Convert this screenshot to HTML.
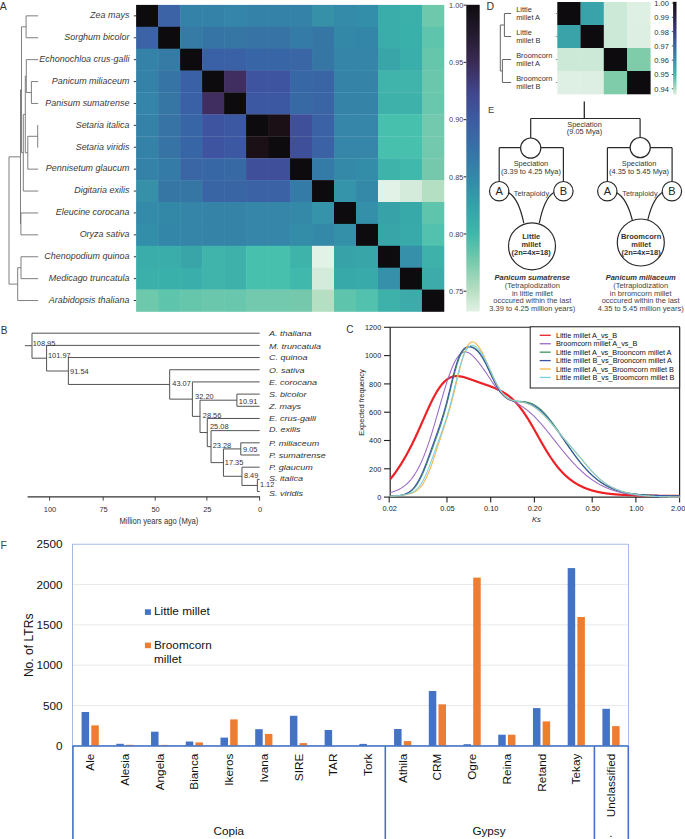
<!DOCTYPE html>
<html><head><meta charset="utf-8"><title>Figure</title>
<style>
html,body{margin:0;padding:0;background:#fff;}
body{width:685px;height:839px;overflow:hidden;}
svg{display:block;}
text{font-family:"Liberation Sans", sans-serif;}
</style></head><body>
<svg width="685" height="839" viewBox="0 0 685 839" font-family='"Liberation Sans", sans-serif'>
<rect x="0" y="0" width="685" height="839" fill="#fff"/>
<text x="-0.30" y="9.70" font-size="10.5" text-anchor="start" fill="#333">A</text>
<rect x="136.10" y="4.90" width="22.29" height="22.20" fill="#0d0b0d"/>
<rect x="158.09" y="4.90" width="22.29" height="22.20" fill="#3b63a6"/>
<rect x="180.08" y="4.90" width="22.29" height="22.20" fill="#3582a8"/>
<rect x="202.07" y="4.90" width="22.29" height="22.20" fill="#3582a8"/>
<rect x="224.06" y="4.90" width="22.29" height="22.20" fill="#3485a9"/>
<rect x="246.05" y="4.90" width="22.29" height="22.20" fill="#3582a8"/>
<rect x="268.04" y="4.90" width="22.29" height="22.20" fill="#3582a8"/>
<rect x="290.03" y="4.90" width="22.29" height="22.20" fill="#3582a8"/>
<rect x="312.02" y="4.90" width="22.29" height="22.20" fill="#3590a8"/>
<rect x="334.01" y="4.90" width="22.29" height="22.20" fill="#338aa9"/>
<rect x="356.00" y="4.90" width="22.29" height="22.20" fill="#338fa9"/>
<rect x="377.99" y="4.90" width="22.29" height="22.20" fill="#3aaca9"/>
<rect x="399.98" y="4.90" width="22.29" height="22.20" fill="#3bb0aa"/>
<rect x="421.97" y="4.90" width="22.29" height="22.20" fill="#6ec8ac"/>
<rect x="136.10" y="26.80" width="22.29" height="22.20" fill="#3b63a6"/>
<rect x="158.09" y="26.80" width="22.29" height="22.20" fill="#0d0b0d"/>
<rect x="180.08" y="26.80" width="22.29" height="22.20" fill="#357ba6"/>
<rect x="202.07" y="26.80" width="22.29" height="22.20" fill="#3674a5"/>
<rect x="224.06" y="26.80" width="22.29" height="22.20" fill="#3676a5"/>
<rect x="246.05" y="26.80" width="22.29" height="22.20" fill="#3773a4"/>
<rect x="268.04" y="26.80" width="22.29" height="22.20" fill="#3773a4"/>
<rect x="290.03" y="26.80" width="22.29" height="22.20" fill="#357ba7"/>
<rect x="312.02" y="26.80" width="22.29" height="22.20" fill="#3676a5"/>
<rect x="334.01" y="26.80" width="22.29" height="22.20" fill="#3388a8"/>
<rect x="356.00" y="26.80" width="22.29" height="22.20" fill="#3386a8"/>
<rect x="377.99" y="26.80" width="22.29" height="22.20" fill="#3aaca9"/>
<rect x="399.98" y="26.80" width="22.29" height="22.20" fill="#3ab0aa"/>
<rect x="421.97" y="26.80" width="22.29" height="22.20" fill="#5ec5ac"/>
<rect x="136.10" y="48.70" width="22.29" height="22.20" fill="#3582a8"/>
<rect x="158.09" y="48.70" width="22.29" height="22.20" fill="#357ba6"/>
<rect x="180.08" y="48.70" width="22.29" height="22.20" fill="#0d0b0d"/>
<rect x="202.07" y="48.70" width="22.29" height="22.20" fill="#3a60a6"/>
<rect x="224.06" y="48.70" width="22.29" height="22.20" fill="#3a60a6"/>
<rect x="246.05" y="48.70" width="22.29" height="22.20" fill="#3865a6"/>
<rect x="268.04" y="48.70" width="22.29" height="22.20" fill="#3865a6"/>
<rect x="290.03" y="48.70" width="22.29" height="22.20" fill="#3a66a6"/>
<rect x="312.02" y="48.70" width="22.29" height="22.20" fill="#3676a5"/>
<rect x="334.01" y="48.70" width="22.29" height="22.20" fill="#3585a8"/>
<rect x="356.00" y="48.70" width="22.29" height="22.20" fill="#3585a8"/>
<rect x="377.99" y="48.70" width="22.29" height="22.20" fill="#39a5a9"/>
<rect x="399.98" y="48.70" width="22.29" height="22.20" fill="#3aaeaa"/>
<rect x="421.97" y="48.70" width="22.29" height="22.20" fill="#66c6ac"/>
<rect x="136.10" y="70.60" width="22.29" height="22.20" fill="#3582a8"/>
<rect x="158.09" y="70.60" width="22.29" height="22.20" fill="#3674a5"/>
<rect x="180.08" y="70.60" width="22.29" height="22.20" fill="#3a60a6"/>
<rect x="202.07" y="70.60" width="22.29" height="22.20" fill="#0d0b0d"/>
<rect x="224.06" y="70.60" width="22.29" height="22.20" fill="#3f2e5f"/>
<rect x="246.05" y="70.60" width="22.29" height="22.20" fill="#3e54a0"/>
<rect x="268.04" y="70.60" width="22.29" height="22.20" fill="#3e54a0"/>
<rect x="290.03" y="70.60" width="22.29" height="22.20" fill="#3867a5"/>
<rect x="312.02" y="70.60" width="22.29" height="22.20" fill="#3a65a5"/>
<rect x="334.01" y="70.60" width="22.29" height="22.20" fill="#3584a8"/>
<rect x="356.00" y="70.60" width="22.29" height="22.20" fill="#3584a8"/>
<rect x="377.99" y="70.60" width="22.29" height="22.20" fill="#40b4aa"/>
<rect x="399.98" y="70.60" width="22.29" height="22.20" fill="#40b4aa"/>
<rect x="421.97" y="70.60" width="22.29" height="22.20" fill="#6ac7ac"/>
<rect x="136.10" y="92.50" width="22.29" height="22.20" fill="#3485a9"/>
<rect x="158.09" y="92.50" width="22.29" height="22.20" fill="#3676a5"/>
<rect x="180.08" y="92.50" width="22.29" height="22.20" fill="#3a60a6"/>
<rect x="202.07" y="92.50" width="22.29" height="22.20" fill="#3f2e5f"/>
<rect x="224.06" y="92.50" width="22.29" height="22.20" fill="#0d0b0d"/>
<rect x="246.05" y="92.50" width="22.29" height="22.20" fill="#3c58a2"/>
<rect x="268.04" y="92.50" width="22.29" height="22.20" fill="#3c58a2"/>
<rect x="290.03" y="92.50" width="22.29" height="22.20" fill="#376aa5"/>
<rect x="312.02" y="92.50" width="22.29" height="22.20" fill="#3a65a5"/>
<rect x="334.01" y="92.50" width="22.29" height="22.20" fill="#3584a8"/>
<rect x="356.00" y="92.50" width="22.29" height="22.20" fill="#3584a8"/>
<rect x="377.99" y="92.50" width="22.29" height="22.20" fill="#3db1aa"/>
<rect x="399.98" y="92.50" width="22.29" height="22.20" fill="#3db1aa"/>
<rect x="421.97" y="92.50" width="22.29" height="22.20" fill="#68c7ac"/>
<rect x="136.10" y="114.40" width="22.29" height="22.20" fill="#3582a8"/>
<rect x="158.09" y="114.40" width="22.29" height="22.20" fill="#3773a4"/>
<rect x="180.08" y="114.40" width="22.29" height="22.20" fill="#3865a6"/>
<rect x="202.07" y="114.40" width="22.29" height="22.20" fill="#3e54a0"/>
<rect x="224.06" y="114.40" width="22.29" height="22.20" fill="#3c58a2"/>
<rect x="246.05" y="114.40" width="22.29" height="22.20" fill="#0d0b0d"/>
<rect x="268.04" y="114.40" width="22.29" height="22.20" fill="#1a1015"/>
<rect x="290.03" y="114.40" width="22.29" height="22.20" fill="#3f4f99"/>
<rect x="312.02" y="114.40" width="22.29" height="22.20" fill="#3a62a5"/>
<rect x="334.01" y="114.40" width="22.29" height="22.20" fill="#3586a8"/>
<rect x="356.00" y="114.40" width="22.29" height="22.20" fill="#3586a8"/>
<rect x="377.99" y="114.40" width="22.29" height="22.20" fill="#47c1ae"/>
<rect x="399.98" y="114.40" width="22.29" height="22.20" fill="#47c1ae"/>
<rect x="421.97" y="114.40" width="22.29" height="22.20" fill="#72c9ad"/>
<rect x="136.10" y="136.30" width="22.29" height="22.20" fill="#3582a8"/>
<rect x="158.09" y="136.30" width="22.29" height="22.20" fill="#3773a4"/>
<rect x="180.08" y="136.30" width="22.29" height="22.20" fill="#3865a6"/>
<rect x="202.07" y="136.30" width="22.29" height="22.20" fill="#3e54a0"/>
<rect x="224.06" y="136.30" width="22.29" height="22.20" fill="#3c58a2"/>
<rect x="246.05" y="136.30" width="22.29" height="22.20" fill="#1a1015"/>
<rect x="268.04" y="136.30" width="22.29" height="22.20" fill="#0d0b0d"/>
<rect x="290.03" y="136.30" width="22.29" height="22.20" fill="#3f4f99"/>
<rect x="312.02" y="136.30" width="22.29" height="22.20" fill="#3a62a5"/>
<rect x="334.01" y="136.30" width="22.29" height="22.20" fill="#3586a8"/>
<rect x="356.00" y="136.30" width="22.29" height="22.20" fill="#3586a8"/>
<rect x="377.99" y="136.30" width="22.29" height="22.20" fill="#47c1ae"/>
<rect x="399.98" y="136.30" width="22.29" height="22.20" fill="#47c1ae"/>
<rect x="421.97" y="136.30" width="22.29" height="22.20" fill="#72c9ad"/>
<rect x="136.10" y="158.20" width="22.29" height="22.20" fill="#3582a8"/>
<rect x="158.09" y="158.20" width="22.29" height="22.20" fill="#357ba7"/>
<rect x="180.08" y="158.20" width="22.29" height="22.20" fill="#3a66a6"/>
<rect x="202.07" y="158.20" width="22.29" height="22.20" fill="#3867a5"/>
<rect x="224.06" y="158.20" width="22.29" height="22.20" fill="#376aa5"/>
<rect x="246.05" y="158.20" width="22.29" height="22.20" fill="#3f4f99"/>
<rect x="268.04" y="158.20" width="22.29" height="22.20" fill="#3f4f99"/>
<rect x="290.03" y="158.20" width="22.29" height="22.20" fill="#0d0b0d"/>
<rect x="312.02" y="158.20" width="22.29" height="22.20" fill="#357ba7"/>
<rect x="334.01" y="158.20" width="22.29" height="22.20" fill="#3589a8"/>
<rect x="356.00" y="158.20" width="22.29" height="22.20" fill="#338da9"/>
<rect x="377.99" y="158.20" width="22.29" height="22.20" fill="#3eb3aa"/>
<rect x="399.98" y="158.20" width="22.29" height="22.20" fill="#40b8ab"/>
<rect x="421.97" y="158.20" width="22.29" height="22.20" fill="#75c8ac"/>
<rect x="136.10" y="180.10" width="22.29" height="22.20" fill="#3590a8"/>
<rect x="158.09" y="180.10" width="22.29" height="22.20" fill="#3676a5"/>
<rect x="180.08" y="180.10" width="22.29" height="22.20" fill="#3676a5"/>
<rect x="202.07" y="180.10" width="22.29" height="22.20" fill="#3a65a5"/>
<rect x="224.06" y="180.10" width="22.29" height="22.20" fill="#3a65a5"/>
<rect x="246.05" y="180.10" width="22.29" height="22.20" fill="#3a62a5"/>
<rect x="268.04" y="180.10" width="22.29" height="22.20" fill="#3a62a5"/>
<rect x="290.03" y="180.10" width="22.29" height="22.20" fill="#357ba7"/>
<rect x="312.02" y="180.10" width="22.29" height="22.20" fill="#0d0b0d"/>
<rect x="334.01" y="180.10" width="22.29" height="22.20" fill="#3594a9"/>
<rect x="356.00" y="180.10" width="22.29" height="22.20" fill="#3589a8"/>
<rect x="377.99" y="180.10" width="22.29" height="22.20" fill="#e2f2e6"/>
<rect x="399.98" y="180.10" width="22.29" height="22.20" fill="#d4ebdc"/>
<rect x="421.97" y="180.10" width="22.29" height="22.20" fill="#b4dfc2"/>
<rect x="136.10" y="202.00" width="22.29" height="22.20" fill="#338aa9"/>
<rect x="158.09" y="202.00" width="22.29" height="22.20" fill="#3388a8"/>
<rect x="180.08" y="202.00" width="22.29" height="22.20" fill="#3585a8"/>
<rect x="202.07" y="202.00" width="22.29" height="22.20" fill="#3584a8"/>
<rect x="224.06" y="202.00" width="22.29" height="22.20" fill="#3584a8"/>
<rect x="246.05" y="202.00" width="22.29" height="22.20" fill="#3586a8"/>
<rect x="268.04" y="202.00" width="22.29" height="22.20" fill="#3586a8"/>
<rect x="290.03" y="202.00" width="22.29" height="22.20" fill="#3589a8"/>
<rect x="312.02" y="202.00" width="22.29" height="22.20" fill="#3594a9"/>
<rect x="334.01" y="202.00" width="22.29" height="22.20" fill="#0d0b0d"/>
<rect x="356.00" y="202.00" width="22.29" height="22.20" fill="#3490a9"/>
<rect x="377.99" y="202.00" width="22.29" height="22.20" fill="#37a3a9"/>
<rect x="399.98" y="202.00" width="22.29" height="22.20" fill="#38a9a9"/>
<rect x="421.97" y="202.00" width="22.29" height="22.20" fill="#5ec5ac"/>
<rect x="136.10" y="223.90" width="22.29" height="22.20" fill="#338fa9"/>
<rect x="158.09" y="223.90" width="22.29" height="22.20" fill="#3386a8"/>
<rect x="180.08" y="223.90" width="22.29" height="22.20" fill="#3585a8"/>
<rect x="202.07" y="223.90" width="22.29" height="22.20" fill="#3584a8"/>
<rect x="224.06" y="223.90" width="22.29" height="22.20" fill="#3584a8"/>
<rect x="246.05" y="223.90" width="22.29" height="22.20" fill="#3586a8"/>
<rect x="268.04" y="223.90" width="22.29" height="22.20" fill="#3586a8"/>
<rect x="290.03" y="223.90" width="22.29" height="22.20" fill="#338da9"/>
<rect x="312.02" y="223.90" width="22.29" height="22.20" fill="#3589a8"/>
<rect x="334.01" y="223.90" width="22.29" height="22.20" fill="#3490a9"/>
<rect x="356.00" y="223.90" width="22.29" height="22.20" fill="#0d0b0d"/>
<rect x="377.99" y="223.90" width="22.29" height="22.20" fill="#38a6a9"/>
<rect x="399.98" y="223.90" width="22.29" height="22.20" fill="#38aaa9"/>
<rect x="421.97" y="223.90" width="22.29" height="22.20" fill="#52c1ad"/>
<rect x="136.10" y="245.80" width="22.29" height="22.20" fill="#3aaca9"/>
<rect x="158.09" y="245.80" width="22.29" height="22.20" fill="#3aaca9"/>
<rect x="180.08" y="245.80" width="22.29" height="22.20" fill="#39a5a9"/>
<rect x="202.07" y="245.80" width="22.29" height="22.20" fill="#40b4aa"/>
<rect x="224.06" y="245.80" width="22.29" height="22.20" fill="#3db1aa"/>
<rect x="246.05" y="245.80" width="22.29" height="22.20" fill="#47c1ae"/>
<rect x="268.04" y="245.80" width="22.29" height="22.20" fill="#47c1ae"/>
<rect x="290.03" y="245.80" width="22.29" height="22.20" fill="#3eb3aa"/>
<rect x="312.02" y="245.80" width="22.29" height="22.20" fill="#e2f2e6"/>
<rect x="334.01" y="245.80" width="22.29" height="22.20" fill="#37a3a9"/>
<rect x="356.00" y="245.80" width="22.29" height="22.20" fill="#38a6a9"/>
<rect x="377.99" y="245.80" width="22.29" height="22.20" fill="#0d0b0d"/>
<rect x="399.98" y="245.80" width="22.29" height="22.20" fill="#3690a9"/>
<rect x="421.97" y="245.80" width="22.29" height="22.20" fill="#3eb2aa"/>
<rect x="136.10" y="267.70" width="22.29" height="22.20" fill="#3bb0aa"/>
<rect x="158.09" y="267.70" width="22.29" height="22.20" fill="#3ab0aa"/>
<rect x="180.08" y="267.70" width="22.29" height="22.20" fill="#3aaeaa"/>
<rect x="202.07" y="267.70" width="22.29" height="22.20" fill="#40b4aa"/>
<rect x="224.06" y="267.70" width="22.29" height="22.20" fill="#3db1aa"/>
<rect x="246.05" y="267.70" width="22.29" height="22.20" fill="#47c1ae"/>
<rect x="268.04" y="267.70" width="22.29" height="22.20" fill="#47c1ae"/>
<rect x="290.03" y="267.70" width="22.29" height="22.20" fill="#40b8ab"/>
<rect x="312.02" y="267.70" width="22.29" height="22.20" fill="#d4ebdc"/>
<rect x="334.01" y="267.70" width="22.29" height="22.20" fill="#38a9a9"/>
<rect x="356.00" y="267.70" width="22.29" height="22.20" fill="#38aaa9"/>
<rect x="377.99" y="267.70" width="22.29" height="22.20" fill="#3690a9"/>
<rect x="399.98" y="267.70" width="22.29" height="22.20" fill="#0d0b0d"/>
<rect x="421.97" y="267.70" width="22.29" height="22.20" fill="#3cabaa"/>
<rect x="136.10" y="289.60" width="22.29" height="22.20" fill="#6ec8ac"/>
<rect x="158.09" y="289.60" width="22.29" height="22.20" fill="#5ec5ac"/>
<rect x="180.08" y="289.60" width="22.29" height="22.20" fill="#66c6ac"/>
<rect x="202.07" y="289.60" width="22.29" height="22.20" fill="#6ac7ac"/>
<rect x="224.06" y="289.60" width="22.29" height="22.20" fill="#68c7ac"/>
<rect x="246.05" y="289.60" width="22.29" height="22.20" fill="#72c9ad"/>
<rect x="268.04" y="289.60" width="22.29" height="22.20" fill="#72c9ad"/>
<rect x="290.03" y="289.60" width="22.29" height="22.20" fill="#75c8ac"/>
<rect x="312.02" y="289.60" width="22.29" height="22.20" fill="#b4dfc2"/>
<rect x="334.01" y="289.60" width="22.29" height="22.20" fill="#5ec5ac"/>
<rect x="356.00" y="289.60" width="22.29" height="22.20" fill="#52c1ad"/>
<rect x="377.99" y="289.60" width="22.29" height="22.20" fill="#3eb2aa"/>
<rect x="399.98" y="289.60" width="22.29" height="22.20" fill="#3cabaa"/>
<rect x="421.97" y="289.60" width="22.29" height="22.20" fill="#0d0b0d"/>
<text x="129.40" y="18.15" font-size="9.4" text-anchor="end" fill="#3a3a3a" font-style="italic" textLength="39.29" lengthAdjust="spacingAndGlyphs">Zea mays</text>
<line x1="133.80" y1="15.85" x2="136.10" y2="15.85" stroke="#333" stroke-width="1"/>
<text x="129.40" y="40.05" font-size="9.4" text-anchor="end" fill="#3a3a3a" font-style="italic" textLength="65.17" lengthAdjust="spacingAndGlyphs">Sorghum bicolor</text>
<line x1="133.80" y1="37.75" x2="136.10" y2="37.75" stroke="#333" stroke-width="1"/>
<text x="129.40" y="61.95" font-size="9.4" text-anchor="end" fill="#3a3a3a" font-style="italic" textLength="90.05" lengthAdjust="spacingAndGlyphs">Echonochloa crus-galli</text>
<line x1="133.80" y1="59.65" x2="136.10" y2="59.65" stroke="#333" stroke-width="1"/>
<text x="129.40" y="83.85" font-size="9.4" text-anchor="end" fill="#3a3a3a" font-style="italic" textLength="77.59" lengthAdjust="spacingAndGlyphs">Panicum miliaceum</text>
<line x1="133.80" y1="81.55" x2="136.10" y2="81.55" stroke="#333" stroke-width="1"/>
<text x="129.40" y="105.75" font-size="9.4" text-anchor="end" fill="#3a3a3a" font-style="italic" textLength="84.07" lengthAdjust="spacingAndGlyphs">Panisum sumatrense</text>
<line x1="133.80" y1="103.45" x2="136.10" y2="103.45" stroke="#333" stroke-width="1"/>
<text x="129.40" y="127.65" font-size="9.4" text-anchor="end" fill="#3a3a3a" font-style="italic" textLength="53.73" lengthAdjust="spacingAndGlyphs">Setaria italica</text>
<line x1="133.80" y1="125.35" x2="136.10" y2="125.35" stroke="#333" stroke-width="1"/>
<text x="129.40" y="149.55" font-size="9.4" text-anchor="end" fill="#3a3a3a" font-style="italic" textLength="53.72" lengthAdjust="spacingAndGlyphs">Setaria viridis</text>
<line x1="133.80" y1="147.25" x2="136.10" y2="147.25" stroke="#333" stroke-width="1"/>
<text x="129.40" y="171.45" font-size="9.4" text-anchor="end" fill="#3a3a3a" font-style="italic" textLength="83.58" lengthAdjust="spacingAndGlyphs">Pennisetum glaucum</text>
<line x1="133.80" y1="169.15" x2="136.10" y2="169.15" stroke="#333" stroke-width="1"/>
<text x="129.40" y="193.35" font-size="9.4" text-anchor="end" fill="#3a3a3a" font-style="italic" textLength="55.21" lengthAdjust="spacingAndGlyphs">Digitaria exilis</text>
<line x1="133.80" y1="191.05" x2="136.10" y2="191.05" stroke="#333" stroke-width="1"/>
<text x="129.40" y="215.25" font-size="9.4" text-anchor="end" fill="#3a3a3a" font-style="italic" textLength="73.64" lengthAdjust="spacingAndGlyphs">Eleucine corocana</text>
<line x1="133.80" y1="212.95" x2="136.10" y2="212.95" stroke="#333" stroke-width="1"/>
<text x="129.40" y="237.15" font-size="9.4" text-anchor="end" fill="#3a3a3a" font-style="italic" textLength="49.74" lengthAdjust="spacingAndGlyphs">Oryza sativa</text>
<line x1="133.80" y1="234.85" x2="136.10" y2="234.85" stroke="#333" stroke-width="1"/>
<text x="129.40" y="259.05" font-size="9.4" text-anchor="end" fill="#3a3a3a" font-style="italic" textLength="85.09" lengthAdjust="spacingAndGlyphs">Chenopodium quinoa</text>
<line x1="133.80" y1="256.75" x2="136.10" y2="256.75" stroke="#333" stroke-width="1"/>
<text x="129.40" y="280.95" font-size="9.4" text-anchor="end" fill="#3a3a3a" font-style="italic" textLength="80.60" lengthAdjust="spacingAndGlyphs">Medicago truncatula</text>
<line x1="133.80" y1="278.65" x2="136.10" y2="278.65" stroke="#333" stroke-width="1"/>
<text x="129.40" y="302.85" font-size="9.4" text-anchor="end" fill="#3a3a3a" font-style="italic" textLength="80.60" lengthAdjust="spacingAndGlyphs">Arabidopsis thaliana</text>
<line x1="133.80" y1="300.55" x2="136.10" y2="300.55" stroke="#333" stroke-width="1"/>
<line x1="26.10" y1="15.85" x2="38.20" y2="15.85" stroke="#707070" stroke-width="0.9"/>
<line x1="26.10" y1="37.75" x2="38.20" y2="37.75" stroke="#707070" stroke-width="0.9"/>
<line x1="26.10" y1="15.85" x2="26.10" y2="37.75" stroke="#707070" stroke-width="0.9"/>
<line x1="31.40" y1="81.55" x2="38.20" y2="81.55" stroke="#707070" stroke-width="0.9"/>
<line x1="31.40" y1="103.45" x2="38.20" y2="103.45" stroke="#707070" stroke-width="0.9"/>
<line x1="31.40" y1="81.55" x2="31.40" y2="103.45" stroke="#707070" stroke-width="0.9"/>
<line x1="26.30" y1="59.65" x2="38.20" y2="59.65" stroke="#707070" stroke-width="0.9"/>
<line x1="26.30" y1="92.50" x2="31.40" y2="92.50" stroke="#707070" stroke-width="0.9"/>
<line x1="26.30" y1="59.65" x2="26.30" y2="92.50" stroke="#707070" stroke-width="0.9"/>
<line x1="37.70" y1="125.35" x2="38.20" y2="125.35" stroke="#707070" stroke-width="0.9"/>
<line x1="37.70" y1="147.25" x2="38.20" y2="147.25" stroke="#707070" stroke-width="0.9"/>
<line x1="37.70" y1="125.35" x2="37.70" y2="147.25" stroke="#707070" stroke-width="0.9"/>
<line x1="27.80" y1="169.15" x2="38.20" y2="169.15" stroke="#707070" stroke-width="0.9"/>
<line x1="27.80" y1="136.30" x2="37.70" y2="136.30" stroke="#707070" stroke-width="0.9"/>
<line x1="27.80" y1="136.30" x2="27.80" y2="169.15" stroke="#707070" stroke-width="0.9"/>
<line x1="25.30" y1="76.08" x2="26.30" y2="76.08" stroke="#707070" stroke-width="0.9"/>
<line x1="25.30" y1="152.73" x2="27.80" y2="152.73" stroke="#707070" stroke-width="0.9"/>
<line x1="25.30" y1="76.08" x2="25.30" y2="152.73" stroke="#707070" stroke-width="0.9"/>
<line x1="23.30" y1="191.05" x2="38.20" y2="191.05" stroke="#707070" stroke-width="0.9"/>
<line x1="23.30" y1="114.40" x2="25.30" y2="114.40" stroke="#707070" stroke-width="0.9"/>
<line x1="23.30" y1="114.40" x2="23.30" y2="191.05" stroke="#707070" stroke-width="0.9"/>
<line x1="21.50" y1="26.80" x2="26.10" y2="26.80" stroke="#707070" stroke-width="0.9"/>
<line x1="21.50" y1="152.72" x2="23.30" y2="152.72" stroke="#707070" stroke-width="0.9"/>
<line x1="21.50" y1="26.80" x2="21.50" y2="152.72" stroke="#707070" stroke-width="0.9"/>
<line x1="20.90" y1="212.95" x2="38.20" y2="212.95" stroke="#707070" stroke-width="0.9"/>
<line x1="20.90" y1="234.85" x2="38.20" y2="234.85" stroke="#707070" stroke-width="0.9"/>
<line x1="20.90" y1="212.95" x2="20.90" y2="234.85" stroke="#707070" stroke-width="0.9"/>
<line x1="20.50" y1="89.76" x2="21.50" y2="89.76" stroke="#707070" stroke-width="0.9"/>
<line x1="20.50" y1="89.76" x2="20.50" y2="223.90" stroke="#707070" stroke-width="0.9"/>
<line x1="21.00" y1="256.75" x2="38.20" y2="256.75" stroke="#707070" stroke-width="0.9"/>
<line x1="21.00" y1="278.65" x2="38.20" y2="278.65" stroke="#707070" stroke-width="0.9"/>
<line x1="21.00" y1="256.75" x2="21.00" y2="278.65" stroke="#707070" stroke-width="0.9"/>
<line x1="17.70" y1="300.55" x2="38.20" y2="300.55" stroke="#707070" stroke-width="0.9"/>
<line x1="17.70" y1="267.70" x2="21.00" y2="267.70" stroke="#707070" stroke-width="0.9"/>
<line x1="17.70" y1="267.70" x2="17.70" y2="300.55" stroke="#707070" stroke-width="0.9"/>
<line x1="9.00" y1="156.83" x2="20.50" y2="156.83" stroke="#707070" stroke-width="0.9"/>
<line x1="9.00" y1="284.12" x2="17.70" y2="284.12" stroke="#707070" stroke-width="0.9"/>
<line x1="9.00" y1="156.83" x2="9.00" y2="284.12" stroke="#707070" stroke-width="0.9"/>
<defs><linearGradient id="cbA" x1="0" y1="0" x2="0" y2="1">
<stop offset="0" stop-color="#0f0b10"/>
<stop offset="0.095" stop-color="#241a2e"/>
<stop offset="0.187" stop-color="#3a2b55"/>
<stop offset="0.28" stop-color="#41448a"/>
<stop offset="0.373" stop-color="#3d5ba0"/>
<stop offset="0.466" stop-color="#3770a6"/>
<stop offset="0.56" stop-color="#3487a8"/>
<stop offset="0.653" stop-color="#35a0a9"/>
<stop offset="0.746" stop-color="#41b6aa"/>
<stop offset="0.84" stop-color="#79caad"/>
<stop offset="0.933" stop-color="#b9dfc3"/>
<stop offset="1" stop-color="#e0f1e4"/>
</linearGradient>
<linearGradient id="cbD" x1="0" y1="0" x2="0" y2="1">
<stop offset="0" stop-color="#140c16"/>
<stop offset="0.165" stop-color="#2b1f45"/>
<stop offset="0.315" stop-color="#3b3a80"/>
<stop offset="0.47" stop-color="#3a64a8"/>
<stop offset="0.625" stop-color="#3592a9"/>
<stop offset="0.78" stop-color="#3fb9aa"/>
<stop offset="0.93" stop-color="#a8dcbc"/>
<stop offset="1" stop-color="#e2f3e6"/>
</linearGradient></defs>
<rect x="466.30" y="4.80" width="13.40" height="306.70" fill="url(#cbA)"/>
<text x="463.30" y="7.95" font-size="7.9" text-anchor="end" fill="#444" textLength="14.21" lengthAdjust="spacingAndGlyphs">1.00</text>
<line x1="463.60" y1="5.20" x2="466.30" y2="5.20" stroke="#444" stroke-width="1.2"/>
<text x="463.30" y="65.15" font-size="7.9" text-anchor="end" fill="#444" textLength="14.21" lengthAdjust="spacingAndGlyphs">0.95</text>
<line x1="463.60" y1="62.40" x2="466.30" y2="62.40" stroke="#444" stroke-width="1.2"/>
<text x="463.30" y="122.35" font-size="7.9" text-anchor="end" fill="#444" textLength="14.21" lengthAdjust="spacingAndGlyphs">0.90</text>
<line x1="463.60" y1="119.60" x2="466.30" y2="119.60" stroke="#444" stroke-width="1.2"/>
<text x="463.30" y="179.55" font-size="7.9" text-anchor="end" fill="#444" textLength="14.21" lengthAdjust="spacingAndGlyphs">0.85</text>
<line x1="463.60" y1="176.80" x2="466.30" y2="176.80" stroke="#444" stroke-width="1.2"/>
<text x="463.30" y="236.75" font-size="7.9" text-anchor="end" fill="#444" textLength="14.21" lengthAdjust="spacingAndGlyphs">0.80</text>
<line x1="463.60" y1="234.00" x2="466.30" y2="234.00" stroke="#444" stroke-width="1.2"/>
<text x="463.30" y="293.95" font-size="7.9" text-anchor="end" fill="#444" textLength="14.21" lengthAdjust="spacingAndGlyphs">0.75</text>
<line x1="463.60" y1="291.20" x2="466.30" y2="291.20" stroke="#444" stroke-width="1.2"/>
<text x="486.60" y="9.90" font-size="10.5" text-anchor="start" fill="#333">D</text>
<rect x="557.30" y="2.00" width="23.55" height="23.30" fill="#0d0b0d"/>
<rect x="580.55" y="2.00" width="23.55" height="23.30" fill="#3aa3a9"/>
<rect x="603.80" y="2.00" width="23.55" height="23.30" fill="#cce8d6"/>
<rect x="627.05" y="2.00" width="23.55" height="23.30" fill="#def0e3"/>
<rect x="557.30" y="25.00" width="23.55" height="23.30" fill="#3aa3a9"/>
<rect x="580.55" y="25.00" width="23.55" height="23.30" fill="#0d0b0d"/>
<rect x="603.80" y="25.00" width="23.55" height="23.30" fill="#cce8d6"/>
<rect x="627.05" y="25.00" width="23.55" height="23.30" fill="#dcefe2"/>
<rect x="557.30" y="48.00" width="23.55" height="23.30" fill="#cce8d6"/>
<rect x="580.55" y="48.00" width="23.55" height="23.30" fill="#cce8d6"/>
<rect x="603.80" y="48.00" width="23.55" height="23.30" fill="#0d0b0d"/>
<rect x="627.05" y="48.00" width="23.55" height="23.30" fill="#7ecca9"/>
<rect x="557.30" y="71.00" width="23.55" height="23.30" fill="#def0e3"/>
<rect x="580.55" y="71.00" width="23.55" height="23.30" fill="#dcefe2"/>
<rect x="603.80" y="71.00" width="23.55" height="23.30" fill="#7ecca9"/>
<rect x="627.05" y="71.00" width="23.55" height="23.30" fill="#0d0b0d"/>
<line x1="504.40" y1="13.50" x2="511.20" y2="13.50" stroke="#555" stroke-width="0.9"/>
<line x1="504.40" y1="36.50" x2="511.20" y2="36.50" stroke="#555" stroke-width="0.9"/>
<line x1="504.40" y1="13.50" x2="504.40" y2="36.50" stroke="#555" stroke-width="0.9"/>
<line x1="502.40" y1="59.50" x2="511.20" y2="59.50" stroke="#555" stroke-width="0.9"/>
<line x1="502.40" y1="82.50" x2="511.20" y2="82.50" stroke="#555" stroke-width="0.9"/>
<line x1="502.40" y1="59.50" x2="502.40" y2="82.50" stroke="#555" stroke-width="0.9"/>
<line x1="500.30" y1="25.00" x2="504.40" y2="25.00" stroke="#555" stroke-width="0.9"/>
<line x1="500.30" y1="71.00" x2="502.40" y2="71.00" stroke="#555" stroke-width="0.9"/>
<line x1="500.30" y1="25.00" x2="500.30" y2="71.00" stroke="#555" stroke-width="0.9"/>
<text x="516.20" y="12.30" font-size="7.4" text-anchor="start" fill="#333">Little</text>
<text x="516.20" y="20.10" font-size="7.4" text-anchor="start" fill="#333">millet A</text>
<line x1="555.90" y1="13.50" x2="557.30" y2="13.50" stroke="#777" stroke-width="0.8"/>
<text x="516.20" y="35.30" font-size="7.4" text-anchor="start" fill="#333">Little</text>
<text x="516.20" y="43.10" font-size="7.4" text-anchor="start" fill="#333">millet B</text>
<line x1="555.90" y1="36.50" x2="557.30" y2="36.50" stroke="#777" stroke-width="0.8"/>
<text x="516.20" y="58.30" font-size="7.4" text-anchor="start" fill="#333">Broomcorn</text>
<text x="516.20" y="66.10" font-size="7.4" text-anchor="start" fill="#333">millet A</text>
<line x1="555.90" y1="59.50" x2="557.30" y2="59.50" stroke="#777" stroke-width="0.8"/>
<text x="516.20" y="81.30" font-size="7.4" text-anchor="start" fill="#333">Broomcorn</text>
<text x="516.20" y="89.10" font-size="7.4" text-anchor="start" fill="#333">millet B</text>
<line x1="555.90" y1="82.50" x2="557.30" y2="82.50" stroke="#777" stroke-width="0.8"/>
<rect x="673.10" y="1.80" width="3.40" height="93.00" fill="url(#cbD)"/>
<text x="669.00" y="5.90" font-size="8.0" text-anchor="end" fill="#333" textLength="14.69" lengthAdjust="spacingAndGlyphs">1.00</text>
<line x1="671.80" y1="3.00" x2="673.10" y2="3.00" stroke="#333" stroke-width="0.8"/>
<text x="669.00" y="20.20" font-size="8.0" text-anchor="end" fill="#333" textLength="14.69" lengthAdjust="spacingAndGlyphs">0.99</text>
<line x1="671.80" y1="17.30" x2="673.10" y2="17.30" stroke="#333" stroke-width="0.8"/>
<text x="669.00" y="34.50" font-size="8.0" text-anchor="end" fill="#333" textLength="14.69" lengthAdjust="spacingAndGlyphs">0.98</text>
<line x1="671.80" y1="31.60" x2="673.10" y2="31.60" stroke="#333" stroke-width="0.8"/>
<text x="669.00" y="48.80" font-size="8.0" text-anchor="end" fill="#333" textLength="14.69" lengthAdjust="spacingAndGlyphs">0.97</text>
<line x1="671.80" y1="45.90" x2="673.10" y2="45.90" stroke="#333" stroke-width="0.8"/>
<text x="669.00" y="63.10" font-size="8.0" text-anchor="end" fill="#333" textLength="14.69" lengthAdjust="spacingAndGlyphs">0.96</text>
<line x1="671.80" y1="60.20" x2="673.10" y2="60.20" stroke="#333" stroke-width="0.8"/>
<text x="669.00" y="77.40" font-size="8.0" text-anchor="end" fill="#333" textLength="14.69" lengthAdjust="spacingAndGlyphs">0.95</text>
<line x1="671.80" y1="74.50" x2="673.10" y2="74.50" stroke="#333" stroke-width="0.8"/>
<text x="669.00" y="91.70" font-size="8.0" text-anchor="end" fill="#333" textLength="14.69" lengthAdjust="spacingAndGlyphs">0.94</text>
<line x1="671.80" y1="88.80" x2="673.10" y2="88.80" stroke="#333" stroke-width="0.8"/>
<text x="488.00" y="112.90" font-size="9.4" text-anchor="start" fill="#444">E</text>
<line x1="584.30" y1="101.50" x2="584.30" y2="118.50" stroke="#2a2a2a" stroke-width="1.3"/>
<line x1="530.70" y1="118.50" x2="640.10" y2="118.50" stroke="#2a2a2a" stroke-width="1.2"/>
<line x1="530.70" y1="118.50" x2="530.70" y2="140.00" stroke="#2a2a2a" stroke-width="1.2"/>
<line x1="640.10" y1="118.50" x2="640.10" y2="140.00" stroke="#2a2a2a" stroke-width="1.2"/>
<line x1="499.20" y1="147.70" x2="563.40" y2="147.70" stroke="#2a2a2a" stroke-width="1.2"/>
<line x1="607.40" y1="147.70" x2="672.10" y2="147.70" stroke="#2a2a2a" stroke-width="1.2"/>
<line x1="499.20" y1="147.70" x2="499.20" y2="183.00" stroke="#2a2a2a" stroke-width="1.2"/>
<line x1="563.40" y1="147.70" x2="563.40" y2="183.00" stroke="#2a2a2a" stroke-width="1.2"/>
<line x1="607.40" y1="147.70" x2="607.40" y2="183.00" stroke="#2a2a2a" stroke-width="1.2"/>
<line x1="672.10" y1="147.70" x2="672.10" y2="183.00" stroke="#2a2a2a" stroke-width="1.2"/>
<circle cx="530.7" cy="148.1" r="10.1" fill="#fff" stroke="#2a2a2a" stroke-width="1.2"/>
<circle cx="640.2" cy="147.6" r="10.1" fill="#fff" stroke="#2a2a2a" stroke-width="1.2"/>
<circle cx="499.2" cy="191.2" r="9.7" fill="#fff" stroke="#2a2a2a" stroke-width="1.2"/>
<text x="499.20" y="195.20" font-size="11" text-anchor="middle" fill="#222">A</text>
<circle cx="563.4" cy="191.2" r="9.7" fill="#fff" stroke="#2a2a2a" stroke-width="1.2"/>
<text x="563.40" y="195.20" font-size="11" text-anchor="middle" fill="#222">B</text>
<circle cx="607.3" cy="191.2" r="9.7" fill="#fff" stroke="#2a2a2a" stroke-width="1.2"/>
<text x="607.30" y="195.20" font-size="11" text-anchor="middle" fill="#222">A</text>
<circle cx="671.9" cy="191.2" r="9.7" fill="#fff" stroke="#2a2a2a" stroke-width="1.2"/>
<text x="671.90" y="195.20" font-size="11" text-anchor="middle" fill="#222">B</text>
<path d="M 508.8 192.9 Q 518.6 198.3 523.8 223.2" stroke="#2a2a2a" stroke-width="1.2" fill="none"/>
<path d="M 553.8 192.6 Q 544.3 198.3 539.3 223.2" stroke="#2a2a2a" stroke-width="1.2" fill="none"/>
<path d="M 616.9 192.9 Q 626.7 198.3 632.3 220.0" stroke="#2a2a2a" stroke-width="1.2" fill="none"/>
<path d="M 662.3 192.6 Q 653.0 198.3 647.8 219.8" stroke="#2a2a2a" stroke-width="1.2" fill="none"/>
<circle cx="532.0" cy="246.3" r="23.5" fill="#fff" stroke="#2a2a2a" stroke-width="1.2"/>
<circle cx="640.8" cy="242.5" r="23.5" fill="#fff" stroke="#2a2a2a" stroke-width="1.2"/>
<text x="584.50" y="126.60" font-size="7.4" text-anchor="middle" fill="#333">Speciation</text>
<text x="584.50" y="134.10" font-size="7.4" text-anchor="middle" fill="#333">(9.05 Mya)</text>
<text x="530.90" y="166.40" font-size="7.4" text-anchor="middle" fill="#333">Speciation</text>
<text x="530.90" y="174.00" font-size="7.4" text-anchor="middle" fill="#333">(3.39 to 4.25 Mya)</text>
<text x="639.10" y="166.00" font-size="7.4" text-anchor="middle" fill="#333">Speciation</text>
<text x="639.10" y="173.60" font-size="7.4" text-anchor="middle" fill="#333">(4.35 to 5.45 Mya)</text>
<text x="531.40" y="196.00" font-size="7.3" text-anchor="middle" fill="#444">Tetraploidy</text>
<text x="639.90" y="196.00" font-size="7.3" text-anchor="middle" fill="#444">Tetraploidy</text>
<text x="531.20" y="239.30" font-size="7.5" text-anchor="middle" fill="#333" font-weight="bold">Little</text>
<text x="531.20" y="247.00" font-size="7.5" text-anchor="middle" fill="#333" font-weight="bold">millet</text>
<text x="531.20" y="254.70" font-size="7.5" text-anchor="middle" fill="#333" font-weight="bold">(2n=4x=18)</text>
<text x="641.10" y="239.30" font-size="7.5" text-anchor="middle" fill="#333" font-weight="bold">Broomcorn</text>
<text x="641.10" y="247.00" font-size="7.5" text-anchor="middle" fill="#333" font-weight="bold">millet</text>
<text x="641.10" y="254.70" font-size="7.5" text-anchor="middle" fill="#333" font-weight="bold">(2n=4x=18)</text>
<text x="532.30" y="280.40" font-size="7.5" text-anchor="middle" fill="#333" font-style="italic" font-weight="bold">Panicum sumatrense</text>
<text x="640.70" y="280.40" font-size="7.5" text-anchor="middle" fill="#333" font-style="italic" font-weight="bold">Panicum miliaceum</text>
<text x="532.30" y="288.20" font-size="7.5" text-anchor="middle" fill="#444">(Tetraplodization</text>
<text x="640.70" y="288.20" font-size="7.5" text-anchor="middle" fill="#444">(Tetraplodization</text>
<text x="532.30" y="295.80" font-size="7.5" text-anchor="middle" fill="#444">in little millet</text>
<text x="640.70" y="295.80" font-size="7.5" text-anchor="middle" fill="#444">in brromcorn millet</text>
<text x="532.30" y="303.40" font-size="7.5" text-anchor="middle" fill="#444">occcured within the last</text>
<text x="640.70" y="303.40" font-size="7.5" text-anchor="middle" fill="#444">occcured within the last</text>
<text x="532.30" y="311.00" font-size="7.5" text-anchor="middle" fill="#444">3.39 to 4.25 million years)</text>
<text x="640.70" y="311.00" font-size="7.5" text-anchor="middle" fill="#444">4.35 to 5.45 million years)</text>
<text x="0.80" y="334.30" font-size="10" text-anchor="start" fill="#333">B</text>
<line x1="257.36" y1="479.36" x2="257.36" y2="491.54" stroke="#4a4a4a" stroke-width="0.95"/>
<line x1="257.36" y1="479.36" x2="259.70" y2="479.36" stroke="#4a4a4a" stroke-width="0.95"/>
<line x1="257.36" y1="491.54" x2="259.70" y2="491.54" stroke="#4a4a4a" stroke-width="0.95"/>
<line x1="241.96" y1="467.18" x2="241.96" y2="485.45" stroke="#4a4a4a" stroke-width="0.95"/>
<line x1="241.96" y1="467.18" x2="259.70" y2="467.18" stroke="#4a4a4a" stroke-width="0.95"/>
<line x1="241.96" y1="485.45" x2="257.36" y2="485.45" stroke="#4a4a4a" stroke-width="0.95"/>
<line x1="240.79" y1="442.82" x2="240.79" y2="455.00" stroke="#4a4a4a" stroke-width="0.95"/>
<line x1="240.79" y1="442.82" x2="259.70" y2="442.82" stroke="#4a4a4a" stroke-width="0.95"/>
<line x1="240.79" y1="455.00" x2="259.70" y2="455.00" stroke="#4a4a4a" stroke-width="0.95"/>
<line x1="223.44" y1="448.91" x2="223.44" y2="476.31" stroke="#4a4a4a" stroke-width="0.95"/>
<line x1="223.44" y1="448.91" x2="240.79" y2="448.91" stroke="#4a4a4a" stroke-width="0.95"/>
<line x1="223.44" y1="476.31" x2="241.96" y2="476.31" stroke="#4a4a4a" stroke-width="0.95"/>
<line x1="211.04" y1="430.64" x2="211.04" y2="462.61" stroke="#4a4a4a" stroke-width="0.95"/>
<line x1="211.04" y1="430.64" x2="259.70" y2="430.64" stroke="#4a4a4a" stroke-width="0.95"/>
<line x1="211.04" y1="462.61" x2="223.44" y2="462.61" stroke="#4a4a4a" stroke-width="0.95"/>
<line x1="207.28" y1="418.46" x2="207.28" y2="446.63" stroke="#4a4a4a" stroke-width="0.95"/>
<line x1="207.28" y1="418.46" x2="259.70" y2="418.46" stroke="#4a4a4a" stroke-width="0.95"/>
<line x1="207.28" y1="446.63" x2="211.04" y2="446.63" stroke="#4a4a4a" stroke-width="0.95"/>
<line x1="236.90" y1="394.10" x2="236.90" y2="406.28" stroke="#4a4a4a" stroke-width="0.95"/>
<line x1="236.90" y1="394.10" x2="259.70" y2="394.10" stroke="#4a4a4a" stroke-width="0.95"/>
<line x1="236.90" y1="406.28" x2="259.70" y2="406.28" stroke="#4a4a4a" stroke-width="0.95"/>
<line x1="200.01" y1="400.19" x2="200.01" y2="432.54" stroke="#4a4a4a" stroke-width="0.95"/>
<line x1="200.01" y1="400.19" x2="236.90" y2="400.19" stroke="#4a4a4a" stroke-width="0.95"/>
<line x1="200.01" y1="432.54" x2="207.28" y2="432.54" stroke="#4a4a4a" stroke-width="0.95"/>
<line x1="192.40" y1="381.92" x2="192.40" y2="416.37" stroke="#4a4a4a" stroke-width="0.95"/>
<line x1="192.40" y1="381.92" x2="259.70" y2="381.92" stroke="#4a4a4a" stroke-width="0.95"/>
<line x1="192.40" y1="416.37" x2="200.01" y2="416.37" stroke="#4a4a4a" stroke-width="0.95"/>
<line x1="169.68" y1="369.74" x2="169.68" y2="399.14" stroke="#4a4a4a" stroke-width="0.95"/>
<line x1="169.68" y1="369.74" x2="259.70" y2="369.74" stroke="#4a4a4a" stroke-width="0.95"/>
<line x1="169.68" y1="399.14" x2="192.40" y2="399.14" stroke="#4a4a4a" stroke-width="0.95"/>
<line x1="68.38" y1="357.56" x2="68.38" y2="384.44" stroke="#4a4a4a" stroke-width="0.95"/>
<line x1="68.38" y1="357.56" x2="259.70" y2="357.56" stroke="#4a4a4a" stroke-width="0.95"/>
<line x1="68.38" y1="384.44" x2="169.68" y2="384.44" stroke="#4a4a4a" stroke-width="0.95"/>
<line x1="46.58" y1="345.38" x2="46.58" y2="371.00" stroke="#4a4a4a" stroke-width="0.95"/>
<line x1="46.58" y1="345.38" x2="259.70" y2="345.38" stroke="#4a4a4a" stroke-width="0.95"/>
<line x1="46.58" y1="371.00" x2="68.38" y2="371.00" stroke="#4a4a4a" stroke-width="0.95"/>
<line x1="31.99" y1="333.20" x2="31.99" y2="358.19" stroke="#4a4a4a" stroke-width="0.95"/>
<line x1="31.99" y1="333.20" x2="259.70" y2="333.20" stroke="#4a4a4a" stroke-width="0.95"/>
<line x1="31.99" y1="358.19" x2="46.58" y2="358.19" stroke="#4a4a4a" stroke-width="0.95"/>
<line x1="24.90" y1="345.70" x2="31.99" y2="345.70" stroke="#4a4a4a" stroke-width="0.95"/>
<text x="32.70" y="345.90" font-size="8.0" text-anchor="start" fill="#333" textLength="22.63" lengthAdjust="spacingAndGlyphs">108.95</text>
<text x="48.00" y="358.20" font-size="8.0" text-anchor="start" fill="#333" textLength="22.63" lengthAdjust="spacingAndGlyphs">101.97</text>
<text x="70.10" y="373.50" font-size="8.0" text-anchor="start" fill="#333" textLength="18.52" lengthAdjust="spacingAndGlyphs">91.54</text>
<text x="172.30" y="386.40" font-size="8.0" text-anchor="start" fill="#333" textLength="18.52" lengthAdjust="spacingAndGlyphs">43.07</text>
<text x="195.10" y="399.20" font-size="8.0" text-anchor="start" fill="#333" textLength="18.52" lengthAdjust="spacingAndGlyphs">32.20</text>
<text x="202.80" y="417.50" font-size="8.0" text-anchor="start" fill="#333" textLength="18.52" lengthAdjust="spacingAndGlyphs">28.56</text>
<text x="238.80" y="403.60" font-size="8.0" text-anchor="start" fill="#333" textLength="18.52" lengthAdjust="spacingAndGlyphs">10.91</text>
<text x="210.00" y="429.20" font-size="8.0" text-anchor="start" fill="#333" textLength="18.52" lengthAdjust="spacingAndGlyphs">25.08</text>
<text x="212.70" y="447.60" font-size="8.0" text-anchor="start" fill="#333" textLength="18.52" lengthAdjust="spacingAndGlyphs">23.28</text>
<text x="243.00" y="452.00" font-size="8.0" text-anchor="start" fill="#333" textLength="14.40" lengthAdjust="spacingAndGlyphs">9.05</text>
<text x="224.80" y="464.70" font-size="8.0" text-anchor="start" fill="#333" textLength="18.52" lengthAdjust="spacingAndGlyphs">17.35</text>
<text x="243.90" y="478.10" font-size="8.0" text-anchor="start" fill="#333" textLength="14.40" lengthAdjust="spacingAndGlyphs">8.49</text>
<text x="259.90" y="487.40" font-size="8.0" text-anchor="start" fill="#333" textLength="14.40" lengthAdjust="spacingAndGlyphs">1.12</text>
<text x="269.00" y="335.95" font-size="8" text-anchor="start" fill="#333" font-style="italic" textLength="42.53" lengthAdjust="spacingAndGlyphs">A. thaliana</text>
<text x="269.00" y="348.65" font-size="8" text-anchor="start" fill="#333" font-style="italic" textLength="52.02" lengthAdjust="spacingAndGlyphs">M. truncatula</text>
<text x="269.00" y="360.35" font-size="8" text-anchor="start" fill="#333" font-style="italic" textLength="38.53" lengthAdjust="spacingAndGlyphs">C. quinoa</text>
<text x="269.00" y="372.95" font-size="8" text-anchor="start" fill="#333" font-style="italic" textLength="35.51" lengthAdjust="spacingAndGlyphs">O. sativa</text>
<text x="269.00" y="384.75" font-size="8" text-anchor="start" fill="#333" font-style="italic" textLength="48.03" lengthAdjust="spacingAndGlyphs">E. corocana</text>
<text x="269.00" y="397.05" font-size="8" text-anchor="start" fill="#333" font-style="italic" textLength="37.52" lengthAdjust="spacingAndGlyphs">S. bicolor</text>
<text x="269.00" y="409.35" font-size="8" text-anchor="start" fill="#333" font-style="italic" textLength="32.00" lengthAdjust="spacingAndGlyphs">Z. mays</text>
<text x="269.00" y="421.35" font-size="8" text-anchor="start" fill="#333" font-style="italic" textLength="47.01" lengthAdjust="spacingAndGlyphs">E. crus-galli</text>
<text x="269.00" y="432.15" font-size="8" text-anchor="start" fill="#333" font-style="italic" textLength="31.50" lengthAdjust="spacingAndGlyphs">D. exilis</text>
<text x="269.00" y="446.35" font-size="8" text-anchor="start" fill="#333" font-style="italic" textLength="50.35" lengthAdjust="spacingAndGlyphs">P. miliaceum</text>
<text x="269.00" y="457.95" font-size="8" text-anchor="start" fill="#333" font-style="italic" textLength="56.87" lengthAdjust="spacingAndGlyphs">P. sumatrense</text>
<text x="269.00" y="469.65" font-size="8" text-anchor="start" fill="#333" font-style="italic" textLength="43.86" lengthAdjust="spacingAndGlyphs">P. glaucum</text>
<text x="269.00" y="480.95" font-size="8" text-anchor="start" fill="#333" font-style="italic" textLength="34.01" lengthAdjust="spacingAndGlyphs">S. italica</text>
<text x="269.00" y="495.65" font-size="8" text-anchor="start" fill="#333" font-style="italic" textLength="34.01" lengthAdjust="spacingAndGlyphs">S. viridis</text>
<line x1="27.60" y1="496.90" x2="260.00" y2="496.90" stroke="#333" stroke-width="1.2"/>
<line x1="49.60" y1="496.90" x2="49.60" y2="500.60" stroke="#333" stroke-width="0.9"/>
<text x="50.00" y="511.80" font-size="7.9" text-anchor="middle" fill="#333" textLength="12.51" lengthAdjust="spacingAndGlyphs">100</text>
<line x1="103.20" y1="496.90" x2="103.20" y2="500.60" stroke="#333" stroke-width="0.9"/>
<text x="103.60" y="511.80" font-size="7.9" text-anchor="middle" fill="#333" textLength="8.34" lengthAdjust="spacingAndGlyphs">75</text>
<line x1="155.20" y1="496.90" x2="155.20" y2="500.60" stroke="#333" stroke-width="0.9"/>
<text x="155.60" y="511.80" font-size="7.9" text-anchor="middle" fill="#333" textLength="8.34" lengthAdjust="spacingAndGlyphs">50</text>
<line x1="206.90" y1="496.90" x2="206.90" y2="500.60" stroke="#333" stroke-width="0.9"/>
<text x="207.30" y="511.80" font-size="7.9" text-anchor="middle" fill="#333" textLength="8.34" lengthAdjust="spacingAndGlyphs">25</text>
<line x1="259.60" y1="496.90" x2="259.60" y2="500.60" stroke="#333" stroke-width="0.9"/>
<text x="260.00" y="511.80" font-size="7.9" text-anchor="middle" fill="#333" textLength="4.17" lengthAdjust="spacingAndGlyphs">0</text>
<text x="158.90" y="524.20" font-size="8.3" text-anchor="middle" fill="#333" textLength="78.97" lengthAdjust="spacingAndGlyphs">Million years ago (Mya)</text>
<text x="346.30" y="333.00" font-size="10" text-anchor="start" fill="#333">C</text>
<line x1="390.20" y1="327.20" x2="679.60" y2="327.20" stroke="#222" stroke-width="1.1"/>
<line x1="390.20" y1="327.20" x2="390.20" y2="497.10" stroke="#222" stroke-width="1.2"/>
<line x1="679.60" y1="327.20" x2="679.60" y2="497.10" stroke="#222" stroke-width="1.2"/>
<line x1="390.20" y1="497.10" x2="679.60" y2="497.10" stroke="#222" stroke-width="1.3"/>
<line x1="384.00" y1="497.10" x2="390.20" y2="497.10" stroke="#222" stroke-width="1.1"/>
<text x="381.20" y="499.80" font-size="7.7" text-anchor="end" fill="#222" textLength="4.03" lengthAdjust="spacingAndGlyphs">0</text>
<line x1="384.00" y1="468.80" x2="390.20" y2="468.80" stroke="#222" stroke-width="1.1"/>
<text x="381.20" y="471.50" font-size="7.7" text-anchor="end" fill="#222" textLength="12.10" lengthAdjust="spacingAndGlyphs">200</text>
<line x1="384.00" y1="440.50" x2="390.20" y2="440.50" stroke="#222" stroke-width="1.1"/>
<text x="381.20" y="443.20" font-size="7.7" text-anchor="end" fill="#222" textLength="12.10" lengthAdjust="spacingAndGlyphs">400</text>
<line x1="384.00" y1="412.20" x2="390.20" y2="412.20" stroke="#222" stroke-width="1.1"/>
<text x="381.20" y="414.90" font-size="7.7" text-anchor="end" fill="#222" textLength="12.10" lengthAdjust="spacingAndGlyphs">600</text>
<line x1="384.00" y1="383.90" x2="390.20" y2="383.90" stroke="#222" stroke-width="1.1"/>
<text x="381.20" y="386.60" font-size="7.7" text-anchor="end" fill="#222" textLength="12.10" lengthAdjust="spacingAndGlyphs">800</text>
<line x1="384.00" y1="355.60" x2="390.20" y2="355.60" stroke="#222" stroke-width="1.1"/>
<text x="381.20" y="358.30" font-size="7.7" text-anchor="end" fill="#222" textLength="16.13" lengthAdjust="spacingAndGlyphs">1000</text>
<line x1="384.00" y1="327.30" x2="390.20" y2="327.30" stroke="#222" stroke-width="1.1"/>
<text x="381.20" y="330.00" font-size="7.7" text-anchor="end" fill="#222" textLength="16.13" lengthAdjust="spacingAndGlyphs">1200</text>
<line x1="389.20" y1="497.10" x2="389.20" y2="502.60" stroke="#222" stroke-width="1.1"/>
<text x="389.70" y="511.00" font-size="7.8" text-anchor="middle" fill="#222" textLength="14.31" lengthAdjust="spacingAndGlyphs">0.02</text>
<line x1="446.98" y1="497.10" x2="446.98" y2="502.60" stroke="#222" stroke-width="1.1"/>
<text x="447.48" y="511.00" font-size="7.8" text-anchor="middle" fill="#222" textLength="14.31" lengthAdjust="spacingAndGlyphs">0.05</text>
<line x1="490.69" y1="497.10" x2="490.69" y2="502.60" stroke="#222" stroke-width="1.1"/>
<text x="491.19" y="511.00" font-size="7.8" text-anchor="middle" fill="#222" textLength="14.31" lengthAdjust="spacingAndGlyphs">0.10</text>
<line x1="534.40" y1="497.10" x2="534.40" y2="502.60" stroke="#222" stroke-width="1.1"/>
<text x="534.90" y="511.00" font-size="7.8" text-anchor="middle" fill="#222" textLength="14.31" lengthAdjust="spacingAndGlyphs">0.20</text>
<line x1="592.18" y1="497.10" x2="592.18" y2="502.60" stroke="#222" stroke-width="1.1"/>
<text x="592.68" y="511.00" font-size="7.8" text-anchor="middle" fill="#222" textLength="14.31" lengthAdjust="spacingAndGlyphs">0.50</text>
<line x1="635.89" y1="497.10" x2="635.89" y2="502.60" stroke="#222" stroke-width="1.1"/>
<text x="636.39" y="511.00" font-size="7.8" text-anchor="middle" fill="#222" textLength="14.31" lengthAdjust="spacingAndGlyphs">1.00</text>
<line x1="679.60" y1="497.10" x2="679.60" y2="502.60" stroke="#222" stroke-width="1.1"/>
<text x="678.10" y="511.00" font-size="7.8" text-anchor="middle" fill="#222" textLength="14.31" lengthAdjust="spacingAndGlyphs">2.00</text>
<text x="536.50" y="522.00" font-size="7.5" text-anchor="middle" fill="#222" font-style="italic">Ks</text>
<text x="0.00" y="0.00" font-size="7.5" text-anchor="middle" fill="#222" transform="translate(364.0 402.5) rotate(-90)">Expected frequency</text>
<polyline points="390.2,479.23 390.7,478.63 391.2,478.02 391.7,477.40 392.2,476.77 392.7,476.13 393.2,475.49 393.7,474.83 394.2,474.16 394.7,473.48 395.2,472.79 395.7,472.09 396.2,471.38 396.7,470.66 397.2,469.94 397.7,469.20 398.2,468.46 398.7,467.70 399.2,466.94 399.7,466.17 400.2,465.39 400.7,464.60 401.2,463.80 401.7,462.99 402.2,462.17 402.7,461.35 403.2,460.51 403.7,459.67 404.2,458.82 404.7,457.96 405.2,457.08 405.7,456.20 406.2,455.31 406.7,454.41 407.2,453.51 407.7,452.59 408.2,451.66 408.7,450.72 409.2,449.77 409.7,448.82 410.2,447.85 410.7,446.87 411.2,445.89 411.7,444.89 412.2,443.89 412.7,442.87 413.2,441.85 413.7,440.81 414.2,439.77 414.7,438.72 415.2,437.66 415.7,436.59 416.2,435.52 416.7,434.44 417.2,433.35 417.7,432.25 418.2,431.15 418.7,430.04 419.2,428.92 419.7,427.80 420.2,426.68 420.7,425.55 421.2,424.42 421.7,423.28 422.2,422.15 422.7,421.01 423.2,419.88 423.7,418.74 424.2,417.61 424.7,416.47 425.2,415.34 425.7,414.21 426.2,413.09 426.7,411.97 427.2,410.86 427.7,409.76 428.2,408.66 428.7,407.57 429.2,406.49 429.7,405.43 430.2,404.37 430.7,403.32 431.2,402.29 431.7,401.27 432.2,400.26 432.7,399.27 433.2,398.30 433.7,397.34 434.2,396.39 434.7,395.47 435.2,394.56 435.7,393.68 436.2,392.81 436.7,391.96 437.2,391.13 437.7,390.33 438.2,389.54 438.7,388.78 439.2,388.04 439.7,387.32 440.2,386.62 440.7,385.95 441.2,385.30 441.7,384.67 442.2,384.07 442.7,383.49 443.2,382.93 443.7,382.40 444.2,381.89 444.7,381.40 445.2,380.94 445.7,380.50 446.2,380.09 446.7,379.70 447.2,379.33 447.7,378.98 448.2,378.65 448.7,378.35 449.2,378.07 449.7,377.81 450.2,377.57 450.7,377.35 451.2,377.15 451.7,376.97 452.2,376.81 452.7,376.67 453.2,376.54 453.7,376.43 454.2,376.34 454.7,376.27 455.2,376.21 455.7,376.17 456.2,376.15 456.7,376.13 457.2,376.13 457.7,376.15 458.2,376.17 458.7,376.21 459.2,376.26 459.7,376.32 460.2,376.39 460.7,376.48 461.2,376.57 461.7,376.66 462.2,376.77 462.7,376.88 463.2,377.01 463.7,377.13 464.2,377.27 464.7,377.41 465.2,377.55 465.7,377.70 466.2,377.86 466.7,378.01 467.2,378.18 467.7,378.34 468.2,378.51 468.7,378.68 469.2,378.85 469.7,379.02 470.2,379.20 470.7,379.38 471.2,379.56 471.7,379.73 472.2,379.91 472.7,380.09 473.2,380.27 473.7,380.46 474.2,380.64 474.7,380.82 475.2,381.00 475.7,381.18 476.2,381.36 476.7,381.54 477.2,381.71 477.7,381.89 478.2,382.07 478.7,382.25 479.2,382.43 479.7,382.60 480.2,382.78 480.7,382.95 481.2,383.13 481.7,383.30 482.2,383.48 482.7,383.65 483.2,383.82 483.7,384.00 484.2,384.17 484.7,384.35 485.2,384.52 485.7,384.70 486.2,384.87 486.7,385.05 487.2,385.23 487.7,385.40 488.2,385.58 488.7,385.76 489.2,385.95 489.7,386.13 490.2,386.31 490.7,386.50 491.2,386.69 491.7,386.88 492.2,387.08 492.7,387.27 493.2,387.47 493.7,387.67 494.2,387.87 494.7,388.08 495.2,388.29 495.7,388.51 496.2,388.72 496.7,388.95 497.2,389.17 497.7,389.40 498.2,389.64 498.7,389.88 499.2,390.12 499.7,390.37 500.2,390.62 500.7,390.88 501.2,391.15 501.7,391.42 502.2,391.70 502.7,391.98 503.2,392.27 503.7,392.57 504.2,392.87 504.7,393.19 505.2,393.50 505.7,393.83 506.2,394.17 506.7,394.51 507.2,394.86 507.7,395.22 508.2,395.59 508.7,395.96 509.2,396.35 509.7,396.75 510.2,397.15 510.7,397.57 511.2,398.00 511.7,398.43 512.2,398.88 512.7,399.34 513.2,399.81 513.7,400.28 514.2,400.78 514.7,401.28 515.2,401.79 515.7,402.32 516.2,402.85 516.7,403.40 517.2,403.96 517.7,404.54 518.2,405.12 518.7,405.72 519.2,406.32 519.7,406.95 520.2,407.58 520.7,408.22 521.2,408.88 521.7,409.55 522.2,410.23 522.7,410.92 523.2,411.62 523.7,412.33 524.2,413.06 524.7,413.80 525.2,414.54 525.7,415.30 526.2,416.07 526.7,416.84 527.2,417.63 527.7,418.42 528.2,419.23 528.7,420.04 529.2,420.86 529.7,421.69 530.2,422.53 530.7,423.37 531.2,424.22 531.7,425.08 532.2,425.94 532.7,426.80 533.2,427.67 533.7,428.55 534.2,429.43 534.7,430.31 535.2,431.20 535.7,432.08 536.2,432.97 536.7,433.86 537.2,434.76 537.7,435.65 538.2,436.54 538.7,437.43 539.2,438.32 539.7,439.21 540.2,440.09 540.7,440.98 541.2,441.86 541.7,442.73 542.2,443.61 542.7,444.48 543.2,445.34 543.7,446.20 544.2,447.05 544.7,447.90 545.2,448.74 545.7,449.58 546.2,450.41 546.7,451.23 547.2,452.04 547.7,452.85 548.2,453.65 548.7,454.44 549.2,455.22 549.7,455.99 550.2,456.76 550.7,457.51 551.2,458.26 551.7,459.00 552.2,459.72 552.7,460.44 553.2,461.15 553.7,461.85 554.2,462.54 554.7,463.22 555.2,463.88 555.7,464.54 556.2,465.19 556.7,465.83 557.2,466.46 557.7,467.08 558.2,467.69 558.7,468.29 559.2,468.88 559.7,469.46 560.2,470.02 560.7,470.58 561.2,471.13 561.7,471.67 562.2,472.20 562.7,472.73 563.2,473.24 563.7,473.74 564.2,474.23 564.7,474.72 565.2,475.19 565.7,475.66 566.2,476.11 566.7,476.56 567.2,477.00 567.7,477.43 568.2,477.86 568.7,478.27 569.2,478.68 569.7,479.08 570.2,479.47 570.7,479.85 571.2,480.23 571.7,480.60 572.2,480.96 572.7,481.31 573.2,481.65 573.7,481.99 574.2,482.32 574.7,482.65 575.2,482.97 575.7,483.28 576.2,483.58 576.7,483.88 577.2,484.18 577.7,484.46 578.2,484.74 578.7,485.01 579.2,485.28 579.7,485.55 580.2,485.80 580.7,486.05 581.2,486.30 581.7,486.54 582.2,486.77 582.7,487.00 583.2,487.23 583.7,487.45 584.2,487.66 584.7,487.87 585.2,488.07 585.7,488.28 586.2,488.47 586.7,488.66 587.2,488.85 587.7,489.03 588.2,489.21 588.7,489.38 589.2,489.55 589.7,489.72 590.2,489.88 590.7,490.04 591.2,490.19 591.7,490.34 592.2,490.49 592.7,490.63 593.2,490.77 593.7,490.91 594.2,491.04 594.7,491.17 595.2,491.29 595.7,491.42 596.2,491.54 596.7,491.65 597.2,491.77 597.7,491.88 598.2,491.98 598.7,492.09 599.2,492.19 599.7,492.29 600.2,492.39 600.7,492.48 601.2,492.58 601.7,492.66 602.2,492.75 602.7,492.84 603.2,492.92 603.7,493.00 604.2,493.08 604.7,493.15 605.2,493.23 605.7,493.30 606.2,493.37 606.7,493.44 607.2,493.50 607.7,493.57 608.2,493.63 608.7,493.69 609.2,493.75 609.7,493.81 610.2,493.86 610.7,493.92 611.2,493.97 611.7,494.02 612.2,494.07 612.7,494.12 613.2,494.17 613.7,494.21 614.2,494.25 614.7,494.30 615.2,494.34 615.7,494.38 616.2,494.42 616.7,494.46 617.2,494.49 617.7,494.53 618.2,494.57 618.7,494.60 619.2,494.63 619.7,494.67 620.2,494.70 620.7,494.73 621.2,494.76 621.7,494.78 622.2,494.81 622.7,494.84 623.2,494.87 623.7,494.89 624.2,494.92 624.7,494.94 625.2,494.96 625.7,494.99 626.2,495.01 626.7,495.03 627.2,495.05 627.7,495.07 628.2,495.09 628.7,495.11 629.2,495.13 629.7,495.15 630.2,495.16 630.7,495.18 631.2,495.20 631.7,495.21 632.2,495.23 632.7,495.25 633.2,495.26 633.7,495.28 634.2,495.29 634.7,495.30 635.2,495.32 635.7,495.33 636.2,495.34 636.7,495.36 637.2,495.37 637.7,495.38 638.2,495.39 638.7,495.41 639.2,495.42 639.7,495.43 640.2,495.44 640.7,495.45 641.2,495.46 641.7,495.47 642.2,495.48 642.7,495.49 643.2,495.50 643.7,495.51 644.2,495.52 644.7,495.53 645.2,495.54 645.7,495.55 646.2,495.55 646.7,495.56 647.2,495.57 647.7,495.58 648.2,495.59 648.7,495.60 649.2,495.60 649.7,495.61 650.2,495.62 650.7,495.63 651.2,495.64 651.7,495.64 652.2,495.65 652.7,495.66 653.2,495.66 653.7,495.67 654.2,495.68 654.7,495.69 655.2,495.69 655.7,495.70 656.2,495.71 656.7,495.71 657.2,495.72 657.7,495.73 658.2,495.73 658.7,495.74 659.2,495.75 659.7,495.75 660.2,495.76 660.7,495.77 661.2,495.77 661.7,495.78 662.2,495.78 662.7,495.79 663.2,495.80 663.7,495.80 664.2,495.81 664.7,495.82 665.2,495.82 665.7,495.83 666.2,495.83 666.7,495.84 667.2,495.85 667.7,495.85 668.2,495.86 668.7,495.86 669.2,495.87 669.7,495.88 670.2,495.88 670.7,495.89 671.2,495.89 671.7,495.90 672.2,495.90 672.7,495.91 673.2,495.92 673.7,495.92 674.2,495.93 674.7,495.93 675.2,495.94 675.7,495.95 676.2,495.95 676.7,495.96 677.2,495.96 677.7,495.97 678.2,495.97 678.7,495.98 679.2,495.98 679.7,495.99" fill="none" stroke="#ec2227" stroke-width="2.2" stroke-linejoin="round"/>
<polyline points="390.2,492.46 390.7,492.38 391.2,492.28 391.7,492.16 392.2,492.04 392.7,491.90 393.2,491.74 393.7,491.58 394.2,491.41 394.7,491.23 395.2,491.04 395.7,490.85 396.2,490.64 396.7,490.43 397.2,490.21 397.7,489.98 398.2,489.74 398.7,489.49 399.2,489.24 399.7,488.97 400.2,488.69 400.7,488.40 401.2,488.11 401.7,487.80 402.2,487.48 402.7,487.14 403.2,486.80 403.7,486.44 404.2,486.07 404.7,485.68 405.2,485.28 405.7,484.87 406.2,484.44 406.7,483.99 407.2,483.53 407.7,483.05 408.2,482.56 408.7,482.05 409.2,481.52 409.7,480.97 410.2,480.40 410.7,479.82 411.2,479.21 411.7,478.58 412.2,477.93 412.7,477.27 413.2,476.58 413.7,475.86 414.2,475.13 414.7,474.37 415.2,473.59 415.7,472.78 416.2,471.96 416.7,471.10 417.2,470.22 417.7,469.32 418.2,468.39 418.7,467.44 419.2,466.46 419.7,465.45 420.2,464.42 420.7,463.36 421.2,462.27 421.7,461.16 422.2,460.02 422.7,458.85 423.2,457.66 423.7,456.44 424.2,455.20 424.7,453.92 425.2,452.63 425.7,451.30 426.2,449.95 426.7,448.58 427.2,447.18 427.7,445.75 428.2,444.30 428.7,442.83 429.2,441.34 429.7,439.82 430.2,438.28 430.7,436.72 431.2,435.14 431.7,433.54 432.2,431.93 432.7,430.29 433.2,428.64 433.7,426.97 434.2,425.29 434.7,423.60 435.2,421.90 435.7,420.18 436.2,418.46 436.7,416.72 437.2,414.98 437.7,413.24 438.2,411.49 438.7,409.74 439.2,407.99 439.7,406.24 440.2,404.49 440.7,402.75 441.2,401.01 441.7,399.28 442.2,397.55 442.7,395.84 443.2,394.14 443.7,392.46 444.2,390.79 444.7,389.13 445.2,387.50 445.7,385.88 446.2,384.29 446.7,382.72 447.2,381.18 447.7,379.66 448.2,378.17 448.7,376.71 449.2,375.29 449.7,373.89 450.2,372.53 450.7,371.21 451.2,369.92 451.7,368.67 452.2,367.46 452.7,366.29 453.2,365.16 453.7,364.07 454.2,363.03 454.7,362.03 455.2,361.08 455.7,360.17 456.2,359.30 456.7,358.49 457.2,357.72 457.7,357.00 458.2,356.33 458.7,355.70 459.2,355.13 459.7,354.60 460.2,354.12 460.7,353.69 461.2,353.30 461.7,352.97 462.2,352.68 462.7,352.43 463.2,352.24 463.7,352.08 464.2,351.98 464.7,351.91 465.2,351.89 465.7,351.91 466.2,351.97 466.7,352.07 467.2,352.21 467.7,352.38 468.2,352.59 468.7,352.84 469.2,353.12 469.7,353.42 470.2,353.76 470.7,354.12 471.2,354.52 471.7,354.93 472.2,355.37 472.7,355.83 473.2,356.32 473.7,356.82 474.2,357.34 474.7,357.87 475.2,358.42 475.7,358.99 476.2,359.57 476.7,360.16 477.2,360.76 477.7,361.38 478.2,362.00 478.7,362.63 479.2,363.28 479.7,363.93 480.2,364.58 480.7,365.25 481.2,365.92 481.7,366.60 482.2,367.29 482.7,367.99 483.2,368.69 483.7,369.40 484.2,370.11 484.7,370.83 485.2,371.56 485.7,372.29 486.2,373.02 486.7,373.76 487.2,374.50 487.7,375.25 488.2,376.00 488.7,376.75 489.2,377.50 489.7,378.25 490.2,379.00 490.7,379.74 491.2,380.48 491.7,381.22 492.2,381.95 492.7,382.67 493.2,383.39 493.7,384.10 494.2,384.79 494.7,385.48 495.2,386.15 495.7,386.81 496.2,387.45 496.7,388.08 497.2,388.70 497.7,389.30 498.2,389.88 498.7,390.45 499.2,391.00 499.7,391.53 500.2,392.04 500.7,392.54 501.2,393.03 501.7,393.50 502.2,393.95 502.7,394.38 503.2,394.81 503.7,395.22 504.2,395.61 504.7,395.99 505.2,396.36 505.7,396.72 506.2,397.07 506.7,397.41 507.2,397.73 507.7,398.06 508.2,398.37 508.7,398.67 509.2,398.97 509.7,399.27 510.2,399.56 510.7,399.85 511.2,400.13 511.7,400.41 512.2,400.69 512.7,400.96 513.2,401.24 513.7,401.51 514.2,401.79 514.7,402.06 515.2,402.34 515.7,402.62 516.2,402.90 516.7,403.18 517.2,403.47 517.7,403.76 518.2,404.05 518.7,404.35 519.2,404.65 519.7,404.95 520.2,405.26 520.7,405.58 521.2,405.90 521.7,406.22 522.2,406.55 522.7,406.89 523.2,407.23 523.7,407.58 524.2,407.93 524.7,408.29 525.2,408.66 525.7,409.04 526.2,409.42 526.7,409.80 527.2,410.20 527.7,410.60 528.2,411.01 528.7,411.42 529.2,411.84 529.7,412.27 530.2,412.71 530.7,413.15 531.2,413.60 531.7,414.06 532.2,414.52 532.7,414.99 533.2,415.47 533.7,415.95 534.2,416.44 534.7,416.94 535.2,417.44 535.7,417.95 536.2,418.47 536.7,418.99 537.2,419.52 537.7,420.05 538.2,420.59 538.7,421.13 539.2,421.68 539.7,422.24 540.2,422.80 540.7,423.36 541.2,423.93 541.7,424.51 542.2,425.09 542.7,425.67 543.2,426.26 543.7,426.85 544.2,427.44 544.7,428.04 545.2,428.65 545.7,429.25 546.2,429.86 546.7,430.48 547.2,431.09 547.7,431.71 548.2,432.33 548.7,432.95 549.2,433.58 549.7,434.20 550.2,434.83 550.7,435.46 551.2,436.09 551.7,436.73 552.2,437.36 552.7,437.99 553.2,438.63 553.7,439.26 554.2,439.90 554.7,440.54 555.2,441.17 555.7,441.81 556.2,442.44 556.7,443.08 557.2,443.71 557.7,444.35 558.2,444.98 558.7,445.61 559.2,446.24 559.7,446.87 560.2,447.50 560.7,448.12 561.2,448.75 561.7,449.37 562.2,449.99 562.7,450.61 563.2,451.22 563.7,451.83 564.2,452.44 564.7,453.05 565.2,453.66 565.7,454.26 566.2,454.86 566.7,455.45 567.2,456.04 567.7,456.63 568.2,457.21 568.7,457.79 569.2,458.37 569.7,458.94 570.2,459.51 570.7,460.08 571.2,460.64 571.7,461.20 572.2,461.75 572.7,462.30 573.2,462.84 573.7,463.38 574.2,463.92 574.7,464.45 575.2,464.97 575.7,465.49 576.2,466.01 576.7,466.52 577.2,467.03 577.7,467.53 578.2,468.02 578.7,468.52 579.2,469.00 579.7,469.48 580.2,469.96 580.7,470.43 581.2,470.90 581.7,471.36 582.2,471.81 582.7,472.26 583.2,472.71 583.7,473.15 584.2,473.58 584.7,474.01 585.2,474.44 585.7,474.85 586.2,475.27 586.7,475.68 587.2,476.08 587.7,476.48 588.2,476.87 588.7,477.26 589.2,477.64 589.7,478.01 590.2,478.38 590.7,478.75 591.2,479.11 591.7,479.47 592.2,479.82 592.7,480.16 593.2,480.50 593.7,480.84 594.2,481.17 594.7,481.49 595.2,481.81 595.7,482.13 596.2,482.44 596.7,482.74 597.2,483.04 597.7,483.34 598.2,483.63 598.7,483.92 599.2,484.20 599.7,484.47 600.2,484.75 600.7,485.01 601.2,485.28 601.7,485.53 602.2,485.79 602.7,486.04 603.2,486.28 603.7,486.52 604.2,486.76 604.7,486.99 605.2,487.22 605.7,487.44 606.2,487.66 606.7,487.88 607.2,488.09 607.7,488.30 608.2,488.50 608.7,488.70 609.2,488.89 609.7,489.09 610.2,489.27 610.7,489.46 611.2,489.64 611.7,489.82 612.2,489.99 612.7,490.16 613.2,490.33 613.7,490.49 614.2,490.65 614.7,490.81 615.2,490.96 615.7,491.11 616.2,491.26 616.7,491.41 617.2,491.55 617.7,491.69 618.2,491.82 618.7,491.95 619.2,492.08 619.7,492.21 620.2,492.33 620.7,492.46 621.2,492.57 621.7,492.69 622.2,492.80 622.7,492.91 623.2,493.02 623.7,493.13 624.2,493.23 624.7,493.33 625.2,493.43 625.7,493.53 626.2,493.62 626.7,493.72 627.2,493.81 627.7,493.90 628.2,493.98 628.7,494.06 629.2,494.15 629.7,494.23 630.2,494.31 630.7,494.38 631.2,494.46 631.7,494.53 632.2,494.60 632.7,494.67 633.2,494.74 633.7,494.80 634.2,494.87 634.7,494.93 635.2,494.99 635.7,495.05 636.2,495.11 636.7,495.16 637.2,495.22 637.7,495.27 638.2,495.32 638.7,495.37 639.2,495.42 639.7,495.47 640.2,495.52 640.7,495.57 641.2,495.61 641.7,495.65 642.2,495.70 642.7,495.74 643.2,495.78 643.7,495.82 644.2,495.86 644.7,495.89 645.2,495.93 645.7,495.96 646.2,496.00 646.7,496.03 647.2,496.06 647.7,496.09 648.2,496.12 648.7,496.15 649.2,496.18 649.7,496.21 650.2,496.24 650.7,496.27 651.2,496.29 651.7,496.32 652.2,496.34 652.7,496.36 653.2,496.39 653.7,496.41 654.2,496.43 654.7,496.45 655.2,496.47 655.7,496.49 656.2,496.51 656.7,496.53 657.2,496.55 657.7,496.57 658.2,496.58 658.7,496.60 659.2,496.62 659.7,496.63 660.2,496.65 660.7,496.66 661.2,496.68 661.7,496.69 662.2,496.70 662.7,496.72 663.2,496.73 663.7,496.74 664.2,496.75 664.7,496.77 665.2,496.78 665.7,496.79 666.2,496.80 666.7,496.81 667.2,496.82 667.7,496.83 668.2,496.84 668.7,496.85 669.2,496.85 669.7,496.86 670.2,496.87 670.7,496.88 671.2,496.89 671.7,496.89 672.2,496.90 672.7,496.91 673.2,496.91 673.7,496.92 674.2,496.93 674.7,496.93 675.2,496.94 675.7,496.94 676.2,496.95 676.7,496.96 677.2,496.96 677.7,496.97 678.2,496.97 678.7,496.98 679.2,496.98 679.7,496.98" fill="none" stroke="#9a68c6" stroke-width="1.05" stroke-linejoin="round"/>
<polyline points="390.2,496.17 390.7,496.16 391.2,496.14 391.7,496.12 392.2,496.10 392.7,496.08 393.2,496.06 393.7,496.04 394.2,496.01 394.7,495.98 395.2,495.95 395.7,495.92 396.2,495.89 396.7,495.85 397.2,495.81 397.7,495.76 398.2,495.71 398.7,495.66 399.2,495.60 399.7,495.53 400.2,495.46 400.7,495.38 401.2,495.30 401.7,495.21 402.2,495.11 402.7,495.00 403.2,494.89 403.7,494.76 404.2,494.62 404.7,494.47 405.2,494.31 405.7,494.13 406.2,493.94 406.7,493.74 407.2,493.51 407.7,493.27 408.2,493.02 408.7,492.74 409.2,492.44 409.7,492.13 410.2,491.79 410.7,491.42 411.2,491.03 411.7,490.62 412.2,490.18 412.7,489.71 413.2,489.22 413.7,488.69 414.2,488.14 414.7,487.55 415.2,486.93 415.7,486.28 416.2,485.60 416.7,484.89 417.2,484.14 417.7,483.35 418.2,482.54 418.7,481.69 419.2,480.80 419.7,479.89 420.2,478.93 420.7,477.95 421.2,476.94 421.7,475.89 422.2,474.81 422.7,473.71 423.2,472.57 423.7,471.41 424.2,470.22 424.7,469.01 425.2,467.78 425.7,466.53 426.2,465.26 426.7,463.97 427.2,462.66 427.7,461.34 428.2,460.01 428.7,458.66 429.2,457.31 429.7,455.95 430.2,454.59 430.7,453.22 431.2,451.84 431.7,450.47 432.2,449.09 432.7,447.71 433.2,446.33 433.7,444.95 434.2,443.57 434.7,442.18 435.2,440.80 435.7,439.41 436.2,438.02 436.7,436.62 437.2,435.21 437.7,433.80 438.2,432.38 438.7,430.94 439.2,429.49 439.7,428.02 440.2,426.53 440.7,425.02 441.2,423.48 441.7,421.92 442.2,420.33 442.7,418.71 443.2,417.06 443.7,415.37 444.2,413.65 444.7,411.90 445.2,410.11 445.7,408.28 446.2,406.42 446.7,404.53 447.2,402.61 447.7,400.66 448.2,398.68 448.7,396.68 449.2,394.66 449.7,392.62 450.2,390.58 450.7,388.53 451.2,386.48 451.7,384.43 452.2,382.40 452.7,380.39 453.2,378.39 453.7,376.43 454.2,374.51 454.7,372.62 455.2,370.78 455.7,368.99 456.2,367.26 456.7,365.59 457.2,363.99 457.7,362.45 458.2,360.99 458.7,359.60 459.2,358.28 459.7,357.04 460.2,355.88 460.7,354.80 461.2,353.80 461.7,352.87 462.2,352.01 462.7,351.23 463.2,350.52 463.7,349.88 464.2,349.31 464.7,348.80 465.2,348.35 465.7,347.96 466.2,347.63 466.7,347.34 467.2,347.11 467.7,346.92 468.2,346.78 468.7,346.67 469.2,346.61 469.7,346.58 470.2,346.59 470.7,346.63 471.2,346.71 471.7,346.82 472.2,346.96 472.7,347.13 473.2,347.34 473.7,347.57 474.2,347.84 474.7,348.13 475.2,348.46 475.7,348.82 476.2,349.21 476.7,349.64 477.2,350.10 477.7,350.59 478.2,351.12 478.7,351.68 479.2,352.27 479.7,352.90 480.2,353.56 480.7,354.26 481.2,354.98 481.7,355.74 482.2,356.54 482.7,357.36 483.2,358.21 483.7,359.09 484.2,359.99 484.7,360.93 485.2,361.88 485.7,362.85 486.2,363.85 486.7,364.86 487.2,365.89 487.7,366.93 488.2,367.98 488.7,369.04 489.2,370.10 489.7,371.17 490.2,372.25 490.7,373.32 491.2,374.38 491.7,375.45 492.2,376.50 492.7,377.55 493.2,378.59 493.7,379.61 494.2,380.62 494.7,381.61 495.2,382.59 495.7,383.54 496.2,384.48 496.7,385.39 497.2,386.28 497.7,387.14 498.2,387.98 498.7,388.79 499.2,389.58 499.7,390.34 500.2,391.07 500.7,391.77 501.2,392.44 501.7,393.08 502.2,393.70 502.7,394.28 503.2,394.84 503.7,395.36 504.2,395.86 504.7,396.33 505.2,396.78 505.7,397.19 506.2,397.58 506.7,397.94 507.2,398.28 507.7,398.60 508.2,398.89 508.7,399.15 509.2,399.40 509.7,399.62 510.2,399.83 510.7,400.02 511.2,400.18 511.7,400.34 512.2,400.47 512.7,400.59 513.2,400.70 513.7,400.79 514.2,400.88 514.7,400.95 515.2,401.01 515.7,401.07 516.2,401.12 516.7,401.16 517.2,401.20 517.7,401.23 518.2,401.26 518.7,401.28 519.2,401.31 519.7,401.33 520.2,401.36 520.7,401.38 521.2,401.41 521.7,401.44 522.2,401.48 522.7,401.52 523.2,401.56 523.7,401.61 524.2,401.67 524.7,401.73 525.2,401.80 525.7,401.88 526.2,401.97 526.7,402.06 527.2,402.17 527.7,402.29 528.2,402.41 528.7,402.55 529.2,402.70 529.7,402.85 530.2,403.02 530.7,403.21 531.2,403.40 531.7,403.61 532.2,403.83 532.7,404.06 533.2,404.30 533.7,404.56 534.2,404.83 534.7,405.11 535.2,405.41 535.7,405.72 536.2,406.04 536.7,406.37 537.2,406.72 537.7,407.08 538.2,407.45 538.7,407.84 539.2,408.24 539.7,408.65 540.2,409.07 540.7,409.51 541.2,409.96 541.7,410.42 542.2,410.89 542.7,411.37 543.2,411.87 543.7,412.38 544.2,412.89 544.7,413.42 545.2,413.96 545.7,414.51 546.2,415.07 546.7,415.64 547.2,416.22 547.7,416.81 548.2,417.41 548.7,418.02 549.2,418.63 549.7,419.26 550.2,419.89 550.7,420.53 551.2,421.18 551.7,421.84 552.2,422.50 552.7,423.17 553.2,423.84 553.7,424.53 554.2,425.21 554.7,425.91 555.2,426.60 555.7,427.31 556.2,428.02 556.7,428.73 557.2,429.44 557.7,430.16 558.2,430.89 558.7,431.62 559.2,432.35 559.7,433.08 560.2,433.81 560.7,434.55 561.2,435.29 561.7,436.03 562.2,436.77 562.7,437.51 563.2,438.26 563.7,439.00 564.2,439.74 564.7,440.49 565.2,441.23 565.7,441.97 566.2,442.71 566.7,443.45 567.2,444.19 567.7,444.93 568.2,445.66 568.7,446.40 569.2,447.13 569.7,447.86 570.2,448.58 570.7,449.31 571.2,450.02 571.7,450.74 572.2,451.45 572.7,452.16 573.2,452.87 573.7,453.57 574.2,454.26 574.7,454.96 575.2,455.64 575.7,456.33 576.2,457.00 576.7,457.68 577.2,458.34 577.7,459.01 578.2,459.66 578.7,460.31 579.2,460.96 579.7,461.60 580.2,462.23 580.7,462.85 581.2,463.48 581.7,464.09 582.2,464.70 582.7,465.30 583.2,465.89 583.7,466.48 584.2,467.06 584.7,467.64 585.2,468.20 585.7,468.76 586.2,469.32 586.7,469.86 587.2,470.40 587.7,470.94 588.2,471.46 588.7,471.98 589.2,472.49 589.7,472.99 590.2,473.49 590.7,473.98 591.2,474.46 591.7,474.94 592.2,475.40 592.7,475.86 593.2,476.32 593.7,476.76 594.2,477.20 594.7,477.63 595.2,478.06 595.7,478.47 596.2,478.88 596.7,479.29 597.2,479.68 597.7,480.07 598.2,480.45 598.7,480.83 599.2,481.20 599.7,481.56 600.2,481.91 600.7,482.26 601.2,482.60 601.7,482.93 602.2,483.26 602.7,483.58 603.2,483.90 603.7,484.21 604.2,484.51 604.7,484.80 605.2,485.09 605.7,485.38 606.2,485.65 606.7,485.93 607.2,486.19 607.7,486.45 608.2,486.71 608.7,486.95 609.2,487.20 609.7,487.43 610.2,487.66 610.7,487.89 611.2,488.11 611.7,488.33 612.2,488.54 612.7,488.74 613.2,488.95 613.7,489.14 614.2,489.33 614.7,489.52 615.2,489.70 615.7,489.88 616.2,490.05 616.7,490.22 617.2,490.38 617.7,490.54 618.2,490.70 618.7,490.85 619.2,491.00 619.7,491.14 620.2,491.28 620.7,491.42 621.2,491.55 621.7,491.68 622.2,491.80 622.7,491.93 623.2,492.04 623.7,492.16 624.2,492.27 624.7,492.38 625.2,492.49 625.7,492.59 626.2,492.69 626.7,492.78 627.2,492.88 627.7,492.97 628.2,493.06 628.7,493.14 629.2,493.23 629.7,493.31 630.2,493.39 630.7,493.46 631.2,493.54 631.7,493.61 632.2,493.68 632.7,493.75 633.2,493.81 633.7,493.88 634.2,493.94 634.7,494.00 635.2,494.05 635.7,494.11 636.2,494.16 636.7,494.22 637.2,494.27 637.7,494.32 638.2,494.36 638.7,494.41 639.2,494.45 639.7,494.50 640.2,494.54 640.7,494.58 641.2,494.62 641.7,494.66 642.2,494.69 642.7,494.73 643.2,494.76 643.7,494.80 644.2,494.83 644.7,494.86 645.2,494.89 645.7,494.92 646.2,494.95 646.7,494.97 647.2,495.00 647.7,495.02 648.2,495.05 648.7,495.07 649.2,495.10 649.7,495.12 650.2,495.14 650.7,495.16 651.2,495.18 651.7,495.20 652.2,495.22 652.7,495.24 653.2,495.26 653.7,495.27 654.2,495.29 654.7,495.31 655.2,495.32 655.7,495.34 656.2,495.35 656.7,495.37 657.2,495.38 657.7,495.40 658.2,495.41 658.7,495.42 659.2,495.43 659.7,495.45 660.2,495.46 660.7,495.47 661.2,495.48 661.7,495.49 662.2,495.50 662.7,495.51 663.2,495.52 663.7,495.53 664.2,495.54 664.7,495.55 665.2,495.56 665.7,495.57 666.2,495.58 666.7,495.58 667.2,495.59 667.7,495.60 668.2,495.61 668.7,495.62 669.2,495.62 669.7,495.63 670.2,495.64 670.7,495.65 671.2,495.65 671.7,495.66 672.2,495.67 672.7,495.67 673.2,495.68 673.7,495.69 674.2,495.69 674.7,495.70 675.2,495.70 675.7,495.71 676.2,495.72 676.7,495.72 677.2,495.73 677.7,495.73 678.2,495.74 678.7,495.74 679.2,495.75 679.7,495.76" fill="none" stroke="#3a955c" stroke-width="1.1" stroke-linejoin="round"/>
<polyline points="390.2,496.23 390.7,496.21 391.2,496.19 391.7,496.17 392.2,496.14 392.7,496.12 393.2,496.09 393.7,496.06 394.2,496.03 394.7,496.00 395.2,495.96 395.7,495.92 396.2,495.87 396.7,495.82 397.2,495.77 397.7,495.71 398.2,495.65 398.7,495.59 399.2,495.51 399.7,495.43 400.2,495.35 400.7,495.25 401.2,495.15 401.7,495.04 402.2,494.92 402.7,494.79 403.2,494.65 403.7,494.50 404.2,494.34 404.7,494.16 405.2,493.97 405.7,493.77 406.2,493.55 406.7,493.31 407.2,493.05 407.7,492.78 408.2,492.49 408.7,492.17 409.2,491.84 409.7,491.48 410.2,491.10 410.7,490.70 411.2,490.27 411.7,489.81 412.2,489.32 412.7,488.81 413.2,488.27 413.7,487.70 414.2,487.10 414.7,486.46 415.2,485.80 415.7,485.10 416.2,484.37 416.7,483.61 417.2,482.81 417.7,481.98 418.2,481.11 418.7,480.21 419.2,479.28 419.7,478.32 420.2,477.32 420.7,476.29 421.2,475.23 421.7,474.14 422.2,473.02 422.7,471.87 423.2,470.70 423.7,469.50 424.2,468.27 424.7,467.02 425.2,465.75 425.7,464.46 426.2,463.15 426.7,461.83 427.2,460.49 427.7,459.13 428.2,457.77 428.7,456.39 429.2,455.01 429.7,453.62 430.2,452.23 430.7,450.83 431.2,449.43 431.7,448.03 432.2,446.63 432.7,445.23 433.2,443.83 433.7,442.43 434.2,441.03 434.7,439.62 435.2,438.22 435.7,436.82 436.2,435.41 436.7,434.00 437.2,432.59 437.7,431.16 438.2,429.73 438.7,428.28 439.2,426.82 439.7,425.35 440.2,423.85 440.7,422.34 441.2,420.80 441.7,419.23 442.2,417.64 442.7,416.01 443.2,414.36 443.7,412.67 444.2,410.94 444.7,409.18 445.2,407.38 445.7,405.55 446.2,403.68 446.7,401.78 447.2,399.85 447.7,397.89 448.2,395.90 448.7,393.89 449.2,391.86 449.7,389.82 450.2,387.77 450.7,385.72 451.2,383.67 451.7,381.63 452.2,379.60 452.7,377.60 453.2,375.63 453.7,373.69 454.2,371.79 454.7,369.94 455.2,368.14 455.7,366.41 456.2,364.73 456.7,363.13 457.2,361.60 457.7,360.14 458.2,358.76 458.7,357.47 459.2,356.25 459.7,355.12 460.2,354.08 460.7,353.11 461.2,352.23 461.7,351.42 462.2,350.70 462.7,350.05 463.2,349.47 463.7,348.96 464.2,348.51 464.7,348.13 465.2,347.80 465.7,347.53 466.2,347.31 466.7,347.14 467.2,347.01 467.7,346.92 468.2,346.87 468.7,346.85 469.2,346.87 469.7,346.92 470.2,347.00 470.7,347.10 471.2,347.24 471.7,347.40 472.2,347.58 472.7,347.79 473.2,348.03 473.7,348.30 474.2,348.59 474.7,348.91 475.2,349.26 475.7,349.64 476.2,350.05 476.7,350.48 477.2,350.96 477.7,351.46 478.2,352.00 478.7,352.57 479.2,353.17 479.7,353.81 480.2,354.48 480.7,355.18 481.2,355.92 481.7,356.69 482.2,357.49 482.7,358.32 483.2,359.18 483.7,360.06 484.2,360.98 484.7,361.92 485.2,362.88 485.7,363.86 486.2,364.86 486.7,365.87 487.2,366.90 487.7,367.94 488.2,368.99 488.7,370.05 489.2,371.12 489.7,372.18 490.2,373.25 490.7,374.31 491.2,375.38 491.7,376.43 492.2,377.48 492.7,378.51 493.2,379.54 493.7,380.55 494.2,381.54 494.7,382.51 495.2,383.47 495.7,384.41 496.2,385.32 496.7,386.21 497.2,387.08 497.7,387.92 498.2,388.74 498.7,389.53 499.2,390.29 499.7,391.02 500.2,391.73 500.7,392.41 501.2,393.06 501.7,393.68 502.2,394.27 502.7,394.83 503.2,395.36 503.7,395.87 504.2,396.35 504.7,396.80 505.2,397.22 505.7,397.62 506.2,397.99 506.7,398.34 507.2,398.67 507.7,398.97 508.2,399.25 508.7,399.50 509.2,399.74 509.7,399.96 510.2,400.16 510.7,400.34 511.2,400.50 511.7,400.65 512.2,400.79 512.7,400.91 513.2,401.02 513.7,401.11 514.2,401.20 514.7,401.28 515.2,401.35 515.7,401.42 516.2,401.48 516.7,401.53 517.2,401.58 517.7,401.62 518.2,401.67 518.7,401.71 519.2,401.75 519.7,401.79 520.2,401.84 520.7,401.88 521.2,401.93 521.7,401.98 522.2,402.04 522.7,402.10 523.2,402.17 523.7,402.24 524.2,402.32 524.7,402.40 525.2,402.50 525.7,402.60 526.2,402.71 526.7,402.83 527.2,402.96 527.7,403.10 528.2,403.25 528.7,403.41 529.2,403.58 529.7,403.76 530.2,403.95 530.7,404.15 531.2,404.37 531.7,404.60 532.2,404.83 532.7,405.09 533.2,405.35 533.7,405.62 534.2,405.91 534.7,406.21 535.2,406.52 535.7,406.85 536.2,407.18 536.7,407.53 537.2,407.89 537.7,408.26 538.2,408.65 538.7,409.05 539.2,409.45 539.7,409.87 540.2,410.31 540.7,410.75 541.2,411.20 541.7,411.67 542.2,412.14 542.7,412.63 543.2,413.13 543.7,413.64 544.2,414.16 544.7,414.68 545.2,415.22 545.7,415.77 546.2,416.33 546.7,416.89 547.2,417.47 547.7,418.05 548.2,418.65 548.7,419.25 549.2,419.85 549.7,420.47 550.2,421.09 550.7,421.72 551.2,422.36 551.7,423.00 552.2,423.66 552.7,424.31 553.2,424.97 553.7,425.64 554.2,426.31 554.7,426.99 555.2,427.68 555.7,428.36 556.2,429.05 556.7,429.75 557.2,430.45 557.7,431.15 558.2,431.86 558.7,432.56 559.2,433.28 559.7,433.99 560.2,434.70 560.7,435.42 561.2,436.14 561.7,436.86 562.2,437.58 562.7,438.30 563.2,439.02 563.7,439.75 564.2,440.47 564.7,441.19 565.2,441.91 565.7,442.63 566.2,443.35 566.7,444.07 567.2,444.79 567.7,445.51 568.2,446.22 568.7,446.93 569.2,447.64 569.7,448.35 570.2,449.06 570.7,449.76 571.2,450.46 571.7,451.16 572.2,451.85 572.7,452.54 573.2,453.22 573.7,453.91 574.2,454.58 574.7,455.26 575.2,455.93 575.7,456.59 576.2,457.25 576.7,457.90 577.2,458.56 577.7,459.20 578.2,459.84 578.7,460.47 579.2,461.10 579.7,461.73 580.2,462.35 580.7,462.96 581.2,463.56 581.7,464.17 582.2,464.76 582.7,465.35 583.2,465.93 583.7,466.51 584.2,467.08 584.7,467.64 585.2,468.20 585.7,468.75 586.2,469.29 586.7,469.83 587.2,470.36 587.7,470.88 588.2,471.40 588.7,471.91 589.2,472.41 589.7,472.91 590.2,473.40 590.7,473.88 591.2,474.36 591.7,474.83 592.2,475.29 592.7,475.74 593.2,476.19 593.7,476.63 594.2,477.07 594.7,477.50 595.2,477.92 595.7,478.33 596.2,478.74 596.7,479.14 597.2,479.54 597.7,479.92 598.2,480.30 598.7,480.68 599.2,481.04 599.7,481.41 600.2,481.76 600.7,482.11 601.2,482.45 601.7,482.78 602.2,483.11 602.7,483.44 603.2,483.75 603.7,484.06 604.2,484.37 604.7,484.66 605.2,484.96 605.7,485.24 606.2,485.52 606.7,485.80 607.2,486.07 607.7,486.33 608.2,486.59 608.7,486.84 609.2,487.08 609.7,487.33 610.2,487.56 610.7,487.79 611.2,488.02 611.7,488.24 612.2,488.45 612.7,488.66 613.2,488.87 613.7,489.07 614.2,489.26 614.7,489.45 615.2,489.64 615.7,489.82 616.2,490.00 616.7,490.17 617.2,490.34 617.7,490.51 618.2,490.67 618.7,490.82 619.2,490.97 619.7,491.12 620.2,491.27 620.7,491.41 621.2,491.54 621.7,491.68 622.2,491.81 622.7,491.93 623.2,492.06 623.7,492.18 624.2,492.29 624.7,492.41 625.2,492.52 625.7,492.62 626.2,492.73 626.7,492.83 627.2,492.93 627.7,493.02 628.2,493.11 628.7,493.20 629.2,493.29 629.7,493.37 630.2,493.46 630.7,493.54 631.2,493.61 631.7,493.69 632.2,493.76 632.7,493.83 633.2,493.90 633.7,493.96 634.2,494.03 634.7,494.09 635.2,494.15 635.7,494.21 636.2,494.27 636.7,494.32 637.2,494.37 637.7,494.42 638.2,494.47 638.7,494.52 639.2,494.57 639.7,494.61 640.2,494.65 640.7,494.70 641.2,494.74 641.7,494.78 642.2,494.81 642.7,494.85 643.2,494.89 643.7,494.92 644.2,494.95 644.7,494.98 645.2,495.01 645.7,495.04 646.2,495.07 646.7,495.10 647.2,495.13 647.7,495.15 648.2,495.18 648.7,495.20 649.2,495.22 649.7,495.24 650.2,495.27 650.7,495.29 651.2,495.31 651.7,495.33 652.2,495.34 652.7,495.36 653.2,495.38 653.7,495.39 654.2,495.41 654.7,495.43 655.2,495.44 655.7,495.45 656.2,495.47 656.7,495.48 657.2,495.49 657.7,495.50 658.2,495.52 658.7,495.53 659.2,495.54 659.7,495.55 660.2,495.56 660.7,495.57 661.2,495.58 661.7,495.59 662.2,495.59 662.7,495.60 663.2,495.61 663.7,495.62 664.2,495.62 664.7,495.63 665.2,495.64 665.7,495.64 666.2,495.65 666.7,495.66 667.2,495.66 667.7,495.67 668.2,495.67 668.7,495.68 669.2,495.68 669.7,495.69 670.2,495.69 670.7,495.70 671.2,495.70 671.7,495.71 672.2,495.71 672.7,495.71 673.2,495.72 673.7,495.72 674.2,495.72 674.7,495.73 675.2,495.73 675.7,495.73 676.2,495.74 676.7,495.74 677.2,495.74 677.7,495.74 678.2,495.75 678.7,495.75 679.2,495.75 679.7,495.75" fill="none" stroke="#3d51a6" stroke-width="1.05" stroke-linejoin="round"/>
<polyline points="390.2,496.32 390.7,496.29 391.2,496.26 391.7,496.23 392.2,496.20 392.7,496.16 393.2,496.13 393.7,496.09 394.2,496.06 394.7,496.02 395.2,495.98 395.7,495.94 396.2,495.90 396.7,495.85 397.2,495.81 397.7,495.76 398.2,495.72 398.7,495.67 399.2,495.61 399.7,495.56 400.2,495.50 400.7,495.45 401.2,495.39 401.7,495.32 402.2,495.26 402.7,495.19 403.2,495.12 403.7,495.05 404.2,494.97 404.7,494.89 405.2,494.81 405.7,494.72 406.2,494.62 406.7,494.52 407.2,494.42 407.7,494.31 408.2,494.19 408.7,494.07 409.2,493.94 409.7,493.80 410.2,493.66 410.7,493.50 411.2,493.33 411.7,493.16 412.2,492.97 412.7,492.76 413.2,492.55 413.7,492.32 414.2,492.07 414.7,491.80 415.2,491.52 415.7,491.22 416.2,490.90 416.7,490.55 417.2,490.18 417.7,489.79 418.2,489.37 418.7,488.92 419.2,488.44 419.7,487.93 420.2,487.39 420.7,486.81 421.2,486.21 421.7,485.56 422.2,484.88 422.7,484.16 423.2,483.40 423.7,482.60 424.2,481.77 424.7,480.89 425.2,479.97 425.7,479.01 426.2,478.00 426.7,476.96 427.2,475.88 427.7,474.75 428.2,473.59 428.7,472.38 429.2,471.15 429.7,469.87 430.2,468.56 430.7,467.22 431.2,465.85 431.7,464.46 432.2,463.03 432.7,461.59 433.2,460.12 433.7,458.64 434.2,457.14 434.7,455.63 435.2,454.10 435.7,452.57 436.2,451.04 436.7,449.50 437.2,447.96 437.7,446.41 438.2,444.88 438.7,443.34 439.2,441.81 439.7,440.29 440.2,438.77 440.7,437.25 441.2,435.74 441.7,434.24 442.2,432.74 442.7,431.24 443.2,429.74 443.7,428.24 444.2,426.73 444.7,425.22 445.2,423.70 445.7,422.17 446.2,420.62 446.7,419.06 447.2,417.47 447.7,415.87 448.2,414.24 448.7,412.58 449.2,410.88 449.7,409.16 450.2,407.41 450.7,405.61 451.2,403.79 451.7,401.93 452.2,400.03 452.7,398.10 453.2,396.14 453.7,394.14 454.2,392.12 454.7,390.07 455.2,388.01 455.7,385.92 456.2,383.83 456.7,381.73 457.2,379.63 457.7,377.53 458.2,375.44 458.7,373.37 459.2,371.33 459.7,369.31 460.2,367.33 460.7,365.40 461.2,363.51 461.7,361.68 462.2,359.91 462.7,358.20 463.2,356.57 463.7,355.01 464.2,353.53 464.7,352.14 465.2,350.83 465.7,349.60 466.2,348.47 466.7,347.43 467.2,346.49 467.7,345.63 468.2,344.87 468.7,344.20 469.2,343.62 469.7,343.13 470.2,342.73 470.7,342.41 471.2,342.18 471.7,342.03 472.2,341.95 472.7,341.95 473.2,342.03 473.7,342.17 474.2,342.38 474.7,342.65 475.2,342.99 475.7,343.38 476.2,343.82 476.7,344.32 477.2,344.87 477.7,345.46 478.2,346.10 478.7,346.79 479.2,347.51 479.7,348.27 480.2,349.07 480.7,349.91 481.2,350.77 481.7,351.67 482.2,352.60 482.7,353.56 483.2,354.54 483.7,355.54 484.2,356.58 484.7,357.63 485.2,358.70 485.7,359.79 486.2,360.89 486.7,362.01 487.2,363.14 487.7,364.28 488.2,365.43 488.7,366.59 489.2,367.75 489.7,368.91 490.2,370.07 490.7,371.23 491.2,372.39 491.7,373.54 492.2,374.68 492.7,375.81 493.2,376.92 493.7,378.03 494.2,379.11 494.7,380.18 495.2,381.23 495.7,382.25 496.2,383.25 496.7,384.23 497.2,385.18 497.7,386.11 498.2,387.00 498.7,387.87 499.2,388.71 499.7,389.51 500.2,390.29 500.7,391.03 501.2,391.75 501.7,392.43 502.2,393.08 502.7,393.69 503.2,394.28 503.7,394.83 504.2,395.36 504.7,395.85 505.2,396.32 505.7,396.75 506.2,397.16 506.7,397.54 507.2,397.90 507.7,398.23 508.2,398.54 508.7,398.82 509.2,399.09 509.7,399.33 510.2,399.56 510.7,399.76 511.2,399.95 511.7,400.12 512.2,400.28 512.7,400.43 513.2,400.56 513.7,400.69 514.2,400.80 514.7,400.91 515.2,401.01 515.7,401.10 516.2,401.19 516.7,401.27 517.2,401.35 517.7,401.43 518.2,401.51 518.7,401.59 519.2,401.67 519.7,401.75 520.2,401.83 520.7,401.92 521.2,402.01 521.7,402.10 522.2,402.20 522.7,402.30 523.2,402.41 523.7,402.53 524.2,402.65 524.7,402.78 525.2,402.92 525.7,403.07 526.2,403.23 526.7,403.39 527.2,403.57 527.7,403.75 528.2,403.94 528.7,404.15 529.2,404.36 529.7,404.58 530.2,404.82 530.7,405.06 531.2,405.32 531.7,405.58 532.2,405.86 532.7,406.14 533.2,406.44 533.7,406.75 534.2,407.06 534.7,407.39 535.2,407.73 535.7,408.08 536.2,408.44 536.7,408.81 537.2,409.19 537.7,409.58 538.2,409.98 538.7,410.38 539.2,410.80 539.7,411.23 540.2,411.67 540.7,412.11 541.2,412.57 541.7,413.03 542.2,413.50 542.7,413.98 543.2,414.47 543.7,414.97 544.2,415.47 544.7,415.98 545.2,416.50 545.7,417.03 546.2,417.56 546.7,418.10 547.2,418.64 547.7,419.19 548.2,419.75 548.7,420.31 549.2,420.87 549.7,421.44 550.2,422.02 550.7,422.59 551.2,423.18 551.7,423.76 552.2,424.35 552.7,424.94 553.2,425.54 553.7,426.14 554.2,426.74 554.7,427.34 555.2,427.94 555.7,428.54 556.2,429.15 556.7,429.75 557.2,430.36 557.7,430.96 558.2,431.57 558.7,432.18 559.2,432.78 559.7,433.39 560.2,433.99 560.7,434.59 561.2,435.19 561.7,435.80 562.2,436.40 562.7,436.99 563.2,437.59 563.7,438.19 564.2,438.78 564.7,439.37 565.2,439.96 565.7,440.55 566.2,441.14 566.7,441.73 567.2,442.31 567.7,442.90 568.2,443.48 568.7,444.06 569.2,444.65 569.7,445.23 570.2,445.81 570.7,446.39 571.2,446.97 571.7,447.55 572.2,448.13 572.7,448.71 573.2,449.29 573.7,449.87 574.2,450.45 574.7,451.04 575.2,451.62 575.7,452.21 576.2,452.79 576.7,453.38 577.2,453.97 577.7,454.56 578.2,455.15 578.7,455.74 579.2,456.34 579.7,456.93 580.2,457.53 580.7,458.13 581.2,458.72 581.7,459.32 582.2,459.92 582.7,460.52 583.2,461.12 583.7,461.72 584.2,462.32 584.7,462.92 585.2,463.51 585.7,464.11 586.2,464.70 586.7,465.29 587.2,465.88 587.7,466.47 588.2,467.06 588.7,467.64 589.2,468.21 589.7,468.79 590.2,469.35 590.7,469.92 591.2,470.48 591.7,471.03 592.2,471.58 592.7,472.12 593.2,472.66 593.7,473.18 594.2,473.71 594.7,474.22 595.2,474.73 595.7,475.23 596.2,475.73 596.7,476.21 597.2,476.69 597.7,477.16 598.2,477.62 598.7,478.08 599.2,478.52 599.7,478.96 600.2,479.39 600.7,479.81 601.2,480.22 601.7,480.63 602.2,481.03 602.7,481.42 603.2,481.80 603.7,482.17 604.2,482.54 604.7,482.89 605.2,483.24 605.7,483.59 606.2,483.92 606.7,484.25 607.2,484.57 607.7,484.88 608.2,485.19 608.7,485.49 609.2,485.78 609.7,486.07 610.2,486.35 610.7,486.62 611.2,486.89 611.7,487.15 612.2,487.41 612.7,487.66 613.2,487.90 613.7,488.14 614.2,488.37 614.7,488.60 615.2,488.82 615.7,489.04 616.2,489.25 616.7,489.46 617.2,489.66 617.7,489.86 618.2,490.06 618.7,490.25 619.2,490.43 619.7,490.61 620.2,490.79 620.7,490.96 621.2,491.13 621.7,491.29 622.2,491.46 622.7,491.61 623.2,491.77 623.7,491.92 624.2,492.06 624.7,492.20 625.2,492.34 625.7,492.48 626.2,492.61 626.7,492.74 627.2,492.87 627.7,492.99 628.2,493.11 628.7,493.23 629.2,493.34 629.7,493.45 630.2,493.56 630.7,493.67 631.2,493.77 631.7,493.87 632.2,493.97 632.7,494.06 633.2,494.15 633.7,494.24 634.2,494.33 634.7,494.42 635.2,494.50 635.7,494.58 636.2,494.66 636.7,494.74 637.2,494.81 637.7,494.88 638.2,494.95 638.7,495.02 639.2,495.09 639.7,495.15 640.2,495.22 640.7,495.28 641.2,495.34 641.7,495.40 642.2,495.45 642.7,495.51 643.2,495.56 643.7,495.61 644.2,495.66 644.7,495.71 645.2,495.76 645.7,495.80 646.2,495.85 646.7,495.89 647.2,495.93 647.7,495.97 648.2,496.01 648.7,496.05 649.2,496.08 649.7,496.12 650.2,496.15 650.7,496.19 651.2,496.22 651.7,496.25 652.2,496.28 652.7,496.31 653.2,496.34 653.7,496.37 654.2,496.39 654.7,496.42 655.2,496.44 655.7,496.47 656.2,496.49 656.7,496.51 657.2,496.53 657.7,496.55 658.2,496.57 658.7,496.59 659.2,496.61 659.7,496.63 660.2,496.65 660.7,496.67 661.2,496.68 661.7,496.70 662.2,496.71 662.7,496.73 663.2,496.74 663.7,496.76 664.2,496.77 664.7,496.78 665.2,496.80 665.7,496.81 666.2,496.82 666.7,496.83 667.2,496.84 667.7,496.85 668.2,496.86 668.7,496.87 669.2,496.88 669.7,496.89 670.2,496.90 670.7,496.91 671.2,496.91 671.7,496.92 672.2,496.93 672.7,496.94 673.2,496.94 673.7,496.95 674.2,496.95 674.7,496.96 675.2,496.97 675.7,496.97 676.2,496.98 676.7,496.98 677.2,496.99 677.7,496.99 678.2,497.00 678.7,497.00 679.2,497.01 679.7,497.01" fill="none" stroke="#f7b445" stroke-width="1.05" stroke-linejoin="round"/>
<polyline points="390.2,496.28 390.7,496.25 391.2,496.22 391.7,496.19 392.2,496.16 392.7,496.12 393.2,496.09 393.7,496.05 394.2,496.01 394.7,495.97 395.2,495.93 395.7,495.89 396.2,495.84 396.7,495.80 397.2,495.75 397.7,495.70 398.2,495.65 398.7,495.59 399.2,495.54 399.7,495.48 400.2,495.42 400.7,495.35 401.2,495.29 401.7,495.22 402.2,495.14 402.7,495.07 403.2,494.98 403.7,494.90 404.2,494.81 404.7,494.71 405.2,494.61 405.7,494.51 406.2,494.39 406.7,494.27 407.2,494.14 407.7,494.01 408.2,493.86 408.7,493.70 409.2,493.54 409.7,493.36 410.2,493.17 410.7,492.96 411.2,492.75 411.7,492.51 412.2,492.26 412.7,491.99 413.2,491.70 413.7,491.40 414.2,491.07 414.7,490.72 415.2,490.34 415.7,489.94 416.2,489.51 416.7,489.06 417.2,488.57 417.7,488.06 418.2,487.51 418.7,486.93 419.2,486.32 419.7,485.68 420.2,484.99 420.7,484.28 421.2,483.52 421.7,482.73 422.2,481.90 422.7,481.03 423.2,480.13 423.7,479.19 424.2,478.21 424.7,477.19 425.2,476.14 425.7,475.05 426.2,473.93 426.7,472.78 427.2,471.60 427.7,470.39 428.2,469.15 428.7,467.88 429.2,466.59 429.7,465.28 430.2,463.96 430.7,462.61 431.2,461.25 431.7,459.88 432.2,458.50 432.7,457.11 433.2,455.71 433.7,454.31 434.2,452.91 434.7,451.50 435.2,450.10 435.7,448.70 436.2,447.30 436.7,445.90 437.2,444.51 437.7,443.12 438.2,441.73 438.7,440.35 439.2,438.97 439.7,437.58 440.2,436.20 440.7,434.81 441.2,433.42 441.7,432.02 442.2,430.61 442.7,429.18 443.2,427.74 443.7,426.29 444.2,424.81 444.7,423.32 445.2,421.79 445.7,420.24 446.2,418.66 446.7,417.05 447.2,415.41 447.7,413.73 448.2,412.02 448.7,410.27 449.2,408.49 449.7,406.67 450.2,404.82 450.7,402.93 451.2,401.02 451.7,399.07 452.2,397.10 452.7,395.11 453.2,393.10 453.7,391.07 454.2,389.04 454.7,387.00 455.2,384.95 455.7,382.92 456.2,380.89 456.7,378.87 457.2,376.88 457.7,374.92 458.2,372.98 458.7,371.09 459.2,369.23 459.7,367.43 460.2,365.67 460.7,363.97 461.2,362.34 461.7,360.77 462.2,359.26 462.7,357.83 463.2,356.47 463.7,355.19 464.2,353.99 464.7,352.86 465.2,351.82 465.7,350.85 466.2,349.97 466.7,349.16 467.2,348.44 467.7,347.79 468.2,347.22 468.7,346.73 469.2,346.31 469.7,345.96 470.2,345.68 470.7,345.47 471.2,345.32 471.7,345.24 472.2,345.22 472.7,345.25 473.2,345.34 473.7,345.49 474.2,345.69 474.7,345.93 475.2,346.22 475.7,346.56 476.2,346.94 476.7,347.36 477.2,347.83 477.7,348.33 478.2,348.87 478.7,349.44 479.2,350.05 479.7,350.69 480.2,351.37 480.7,352.08 481.2,352.81 481.7,353.58 482.2,354.38 482.7,355.20 483.2,356.05 483.7,356.93 484.2,357.83 484.7,358.76 485.2,359.70 485.7,360.67 486.2,361.66 486.7,362.66 487.2,363.68 487.7,364.72 488.2,365.77 488.7,366.83 489.2,367.90 489.7,368.98 490.2,370.06 490.7,371.14 491.2,372.23 491.7,373.32 492.2,374.40 492.7,375.47 493.2,376.54 493.7,377.61 494.2,378.65 494.7,379.69 495.2,380.71 495.7,381.71 496.2,382.70 496.7,383.66 497.2,384.60 497.7,385.52 498.2,386.41 498.7,387.28 499.2,388.12 499.7,388.93 500.2,389.72 500.7,390.47 501.2,391.19 501.7,391.89 502.2,392.55 502.7,393.18 503.2,393.78 503.7,394.35 504.2,394.90 504.7,395.41 505.2,395.89 505.7,396.34 506.2,396.77 506.7,397.17 507.2,397.54 507.7,397.88 508.2,398.21 508.7,398.50 509.2,398.78 509.7,399.04 510.2,399.27 510.7,399.49 511.2,399.69 511.7,399.87 512.2,400.04 512.7,400.19 513.2,400.33 513.7,400.46 514.2,400.58 514.7,400.69 515.2,400.80 515.7,400.89 516.2,400.98 516.7,401.07 517.2,401.15 517.7,401.23 518.2,401.31 518.7,401.39 519.2,401.47 519.7,401.55 520.2,401.64 520.7,401.72 521.2,401.81 521.7,401.91 522.2,402.01 522.7,402.11 523.2,402.22 523.7,402.34 524.2,402.46 524.7,402.60 525.2,402.74 525.7,402.88 526.2,403.04 526.7,403.21 527.2,403.38 527.7,403.57 528.2,403.76 528.7,403.97 529.2,404.18 529.7,404.40 530.2,404.64 530.7,404.89 531.2,405.14 531.7,405.41 532.2,405.68 532.7,405.97 533.2,406.27 533.7,406.58 534.2,406.90 534.7,407.23 535.2,407.57 535.7,407.92 536.2,408.28 536.7,408.66 537.2,409.04 537.7,409.43 538.2,409.83 538.7,410.24 539.2,410.66 539.7,411.09 540.2,411.53 540.7,411.98 541.2,412.44 541.7,412.90 542.2,413.38 542.7,413.86 543.2,414.35 543.7,414.85 544.2,415.36 544.7,415.87 545.2,416.39 545.7,416.92 546.2,417.46 546.7,418.00 547.2,418.54 547.7,419.10 548.2,419.65 548.7,420.22 549.2,420.79 549.7,421.36 550.2,421.94 550.7,422.52 551.2,423.11 551.7,423.70 552.2,424.29 552.7,424.89 553.2,425.48 553.7,426.08 554.2,426.69 554.7,427.29 555.2,427.90 555.7,428.51 556.2,429.11 556.7,429.72 557.2,430.33 557.7,430.94 558.2,431.55 558.7,432.16 559.2,432.77 559.7,433.38 560.2,433.98 560.7,434.59 561.2,435.19 561.7,435.80 562.2,436.40 562.7,437.00 563.2,437.60 563.7,438.20 564.2,438.79 564.7,439.39 565.2,439.98 565.7,440.57 566.2,441.16 566.7,441.74 567.2,442.33 567.7,442.91 568.2,443.50 568.7,444.08 569.2,444.66 569.7,445.24 570.2,445.82 570.7,446.40 571.2,446.98 571.7,447.56 572.2,448.14 572.7,448.71 573.2,449.29 573.7,449.87 574.2,450.45 574.7,451.04 575.2,451.62 575.7,452.20 576.2,452.79 576.7,453.38 577.2,453.96 577.7,454.55 578.2,455.14 578.7,455.74 579.2,456.33 579.7,456.92 580.2,457.52 580.7,458.12 581.2,458.72 581.7,459.31 582.2,459.91 582.7,460.51 583.2,461.12 583.7,461.72 584.2,462.32 584.7,462.91 585.2,463.51 585.7,464.11 586.2,464.71 586.7,465.30 587.2,465.89 587.7,466.48 588.2,467.06 588.7,467.65 589.2,468.22 589.7,468.80 590.2,469.37 590.7,469.93 591.2,470.49 591.7,471.05 592.2,471.59 592.7,472.14 593.2,472.67 593.7,473.20 594.2,473.72 594.7,474.24 595.2,474.74 595.7,475.24 596.2,475.74 596.7,476.22 597.2,476.70 597.7,477.17 598.2,477.63 598.7,478.08 599.2,478.52 599.7,478.96 600.2,479.39 600.7,479.80 601.2,480.22 601.7,480.62 602.2,481.01 602.7,481.40 603.2,481.78 603.7,482.15 604.2,482.51 604.7,482.87 605.2,483.21 605.7,483.55 606.2,483.89 606.7,484.21 607.2,484.53 607.7,484.84 608.2,485.15 608.7,485.44 609.2,485.74 609.7,486.02 610.2,486.30 610.7,486.57 611.2,486.84 611.7,487.10 612.2,487.35 612.7,487.60 613.2,487.85 613.7,488.08 614.2,488.32 614.7,488.54 615.2,488.77 615.7,488.98 616.2,489.20 616.7,489.40 617.2,489.61 617.7,489.81 618.2,490.00 618.7,490.19 619.2,490.38 619.7,490.56 620.2,490.73 620.7,490.91 621.2,491.08 621.7,491.24 622.2,491.40 622.7,491.56 623.2,491.71 623.7,491.86 624.2,492.01 624.7,492.15 625.2,492.29 625.7,492.43 626.2,492.56 626.7,492.69 627.2,492.82 627.7,492.94 628.2,493.06 628.7,493.18 629.2,493.30 629.7,493.41 630.2,493.52 630.7,493.62 631.2,493.73 631.7,493.83 632.2,493.93 632.7,494.02 633.2,494.12 633.7,494.21 634.2,494.30 634.7,494.38 635.2,494.47 635.7,494.55 636.2,494.63 636.7,494.70 637.2,494.78 637.7,494.85 638.2,494.92 638.7,494.99 639.2,495.06 639.7,495.13 640.2,495.19 640.7,495.25 641.2,495.31 641.7,495.37 642.2,495.43 642.7,495.48 643.2,495.54 643.7,495.59 644.2,495.64 644.7,495.69 645.2,495.73 645.7,495.78 646.2,495.82 646.7,495.87 647.2,495.91 647.7,495.95 648.2,495.99 648.7,496.03 649.2,496.07 649.7,496.10 650.2,496.14 650.7,496.17 651.2,496.20 651.7,496.23 652.2,496.26 652.7,496.29 653.2,496.32 653.7,496.35 654.2,496.38 654.7,496.40 655.2,496.43 655.7,496.45 656.2,496.48 656.7,496.50 657.2,496.52 657.7,496.54 658.2,496.56 658.7,496.58 659.2,496.60 659.7,496.62 660.2,496.64 660.7,496.66 661.2,496.67 661.7,496.69 662.2,496.71 662.7,496.72 663.2,496.74 663.7,496.75 664.2,496.76 664.7,496.78 665.2,496.79 665.7,496.80 666.2,496.81 666.7,496.82 667.2,496.83 667.7,496.85 668.2,496.86 668.7,496.86 669.2,496.87 669.7,496.88 670.2,496.89 670.7,496.90 671.2,496.91 671.7,496.92 672.2,496.92 672.7,496.93 673.2,496.94 673.7,496.94 674.2,496.95 674.7,496.96 675.2,496.96 675.7,496.97 676.2,496.97 676.7,496.98 677.2,496.98 677.7,496.99 678.2,496.99 678.7,497.00 679.2,497.00 679.7,497.01" fill="none" stroke="#78d0e2" stroke-width="1.05" stroke-linejoin="round"/>
<rect x="530.20" y="326.80" width="149.40" height="61.20" fill="#fff" stroke="#222" stroke-width="1"/>
<line x1="539.70" y1="335.30" x2="550.70" y2="335.30" stroke="#ec2227" stroke-width="1.3"/>
<text x="555.90" y="337.80" font-size="7.3" text-anchor="start" fill="#111">Little millet A_vs_B</text>
<line x1="539.70" y1="343.73" x2="550.70" y2="343.73" stroke="#9a68c6" stroke-width="1.3"/>
<text x="555.90" y="346.23" font-size="7.3" text-anchor="start" fill="#111">Broomcorn millet A_vs_B</text>
<line x1="539.70" y1="352.16" x2="550.70" y2="352.16" stroke="#3a955c" stroke-width="1.3"/>
<text x="555.90" y="354.66" font-size="7.3" text-anchor="start" fill="#111">Little millet A_vs_Brooncorn millet A</text>
<line x1="539.70" y1="360.59" x2="550.70" y2="360.59" stroke="#3d51a6" stroke-width="1.3"/>
<text x="555.90" y="363.09" font-size="7.3" text-anchor="start" fill="#111">Little millet B_vs_Brooncorn millet A</text>
<line x1="539.70" y1="369.02" x2="550.70" y2="369.02" stroke="#f7b445" stroke-width="1.3"/>
<text x="555.90" y="371.52" font-size="7.3" text-anchor="start" fill="#111">Little millet A_vs_Broomcorn millet B</text>
<line x1="539.70" y1="377.45" x2="550.70" y2="377.45" stroke="#78d0e2" stroke-width="1.3"/>
<text x="555.90" y="379.95" font-size="7.3" text-anchor="start" fill="#111">Little millet B_vs_Broomcorn millet B</text>
<text x="0.60" y="548.70" font-size="10.5" text-anchor="start" fill="#444">F</text>
<line x1="72.60" y1="705.48" x2="628.40" y2="705.48" stroke="#e6e6e6" stroke-width="0.9"/>
<line x1="72.60" y1="665.16" x2="628.40" y2="665.16" stroke="#e6e6e6" stroke-width="0.9"/>
<line x1="72.60" y1="624.84" x2="628.40" y2="624.84" stroke="#e6e6e6" stroke-width="0.9"/>
<line x1="72.60" y1="584.52" x2="628.40" y2="584.52" stroke="#e6e6e6" stroke-width="0.9"/>
<rect x="72.6" y="544.2" width="555.8" height="201.6" fill="none" stroke="#8faadc" stroke-width="0.8"/>
<text x="62.40" y="749.90" font-size="11.7" text-anchor="end" fill="#111">0</text>
<text x="62.40" y="709.58" font-size="11.7" text-anchor="end" fill="#111">500</text>
<text x="62.40" y="669.26" font-size="11.7" text-anchor="end" fill="#111">1000</text>
<text x="62.40" y="628.94" font-size="11.7" text-anchor="end" fill="#111">1500</text>
<text x="62.40" y="588.62" font-size="11.7" text-anchor="end" fill="#111">2000</text>
<text x="62.40" y="548.30" font-size="11.7" text-anchor="end" fill="#111">2500</text>
<text x="0.00" y="0.00" font-size="12.1" text-anchor="middle" fill="#111" transform="translate(33.0 645.3) rotate(-90)">No. of LTRs</text>
<rect x="81.60" y="712.00" width="7.50" height="33.80" fill="#4472c4"/>
<rect x="91.30" y="725.40" width="7.50" height="20.40" fill="#ed7d31"/>
<text x="0.00" y="0.00" font-size="11.8" text-anchor="end" fill="#111" transform="translate(94.20 753.6) rotate(-90)">Ale</text>
<rect x="116.32" y="743.80" width="7.50" height="2.00" fill="#4472c4"/>
<rect x="126.02" y="744.80" width="7.50" height="1.00" fill="#ed7d31"/>
<text x="0.00" y="0.00" font-size="11.8" text-anchor="end" fill="#111" transform="translate(128.92 753.6) rotate(-90)">Alesia</text>
<rect x="151.04" y="731.70" width="7.50" height="14.10" fill="#4472c4"/>
<rect x="160.74" y="744.90" width="7.50" height="0.90" fill="#ed7d31"/>
<text x="0.00" y="0.00" font-size="11.8" text-anchor="end" fill="#111" transform="translate(163.64 753.6) rotate(-90)">Angela</text>
<rect x="185.76" y="741.50" width="7.50" height="4.30" fill="#4472c4"/>
<rect x="195.46" y="742.40" width="7.50" height="3.40" fill="#ed7d31"/>
<text x="0.00" y="0.00" font-size="11.8" text-anchor="end" fill="#111" transform="translate(198.36 753.6) rotate(-90)">Bianca</text>
<rect x="220.48" y="737.60" width="7.50" height="8.20" fill="#4472c4"/>
<rect x="230.18" y="719.40" width="7.50" height="26.40" fill="#ed7d31"/>
<text x="0.00" y="0.00" font-size="11.8" text-anchor="end" fill="#111" transform="translate(233.08 753.6) rotate(-90)">Ikeros</text>
<rect x="255.20" y="729.20" width="7.50" height="16.60" fill="#4472c4"/>
<rect x="264.90" y="733.90" width="7.50" height="11.90" fill="#ed7d31"/>
<text x="0.00" y="0.00" font-size="11.8" text-anchor="end" fill="#111" transform="translate(267.80 753.6) rotate(-90)">Ivana</text>
<rect x="289.92" y="715.80" width="7.50" height="30.00" fill="#4472c4"/>
<rect x="299.62" y="743.10" width="7.50" height="2.70" fill="#ed7d31"/>
<text x="0.00" y="0.00" font-size="11.8" text-anchor="end" fill="#111" transform="translate(302.52 753.6) rotate(-90)">SIRE</text>
<rect x="324.64" y="730.00" width="7.50" height="15.80" fill="#4472c4"/>
<text x="0.00" y="0.00" font-size="11.8" text-anchor="end" fill="#111" transform="translate(337.24 753.6) rotate(-90)">TAR</text>
<rect x="359.36" y="743.90" width="7.50" height="1.90" fill="#4472c4"/>
<text x="0.00" y="0.00" font-size="11.8" text-anchor="end" fill="#111" transform="translate(371.96 753.6) rotate(-90)">Tork</text>
<rect x="394.08" y="729.00" width="7.50" height="16.80" fill="#4472c4"/>
<rect x="403.78" y="741.10" width="7.50" height="4.70" fill="#ed7d31"/>
<text x="0.00" y="0.00" font-size="11.8" text-anchor="end" fill="#111" transform="translate(406.68 753.6) rotate(-90)">Athila</text>
<rect x="428.80" y="691.00" width="7.50" height="54.80" fill="#4472c4"/>
<rect x="438.50" y="704.30" width="7.50" height="41.50" fill="#ed7d31"/>
<text x="0.00" y="0.00" font-size="11.8" text-anchor="end" fill="#111" transform="translate(441.40 753.6) rotate(-90)">CRM</text>
<rect x="463.52" y="744.20" width="7.50" height="1.60" fill="#4472c4"/>
<rect x="473.22" y="577.60" width="7.50" height="168.20" fill="#ed7d31"/>
<text x="0.00" y="0.00" font-size="11.8" text-anchor="end" fill="#111" transform="translate(476.12 753.6) rotate(-90)">Ogre</text>
<rect x="498.24" y="734.70" width="7.50" height="11.10" fill="#4472c4"/>
<rect x="507.94" y="734.70" width="7.50" height="11.10" fill="#ed7d31"/>
<text x="0.00" y="0.00" font-size="11.8" text-anchor="end" fill="#111" transform="translate(510.84 753.6) rotate(-90)">Reina</text>
<rect x="532.96" y="708.10" width="7.50" height="37.70" fill="#4472c4"/>
<rect x="542.66" y="721.40" width="7.50" height="24.40" fill="#ed7d31"/>
<text x="0.00" y="0.00" font-size="11.8" text-anchor="end" fill="#111" transform="translate(545.56 753.6) rotate(-90)">Retand</text>
<rect x="567.68" y="568.10" width="7.50" height="177.70" fill="#4472c4"/>
<rect x="577.38" y="617.00" width="7.50" height="128.80" fill="#ed7d31"/>
<text x="0.00" y="0.00" font-size="11.8" text-anchor="end" fill="#111" transform="translate(580.28 753.6) rotate(-90)">Tekay</text>
<rect x="602.40" y="708.80" width="7.50" height="37.00" fill="#4472c4"/>
<rect x="612.10" y="726.10" width="7.50" height="19.70" fill="#ed7d31"/>
<text x="0.00" y="0.00" font-size="11.8" text-anchor="end" fill="#111" transform="translate(615.00 753.6) rotate(-90)">Unclassified</text>
<rect x="144.90" y="609.30" width="6.00" height="5.60" fill="#4472c4"/>
<rect x="144.90" y="642.60" width="6.00" height="5.60" fill="#ed7d31"/>
<text x="154.00" y="615.30" font-size="11.8" text-anchor="start" fill="#111">Little millet</text>
<text x="154.00" y="649.40" font-size="11.8" text-anchor="start" fill="#111">Broomcorn</text>
<text x="154.00" y="662.50" font-size="11.8" text-anchor="start" fill="#111">millet</text>
<line x1="72.60" y1="746.00" x2="628.40" y2="746.00" stroke="#4472c4" stroke-width="1.6"/>
<line x1="72.90" y1="746.00" x2="72.90" y2="839.00" stroke="#4472c4" stroke-width="1.6"/>
<line x1="385.30" y1="746.00" x2="385.30" y2="839.00" stroke="#4472c4" stroke-width="1.6"/>
<line x1="594.40" y1="746.00" x2="594.40" y2="839.00" stroke="#4472c4" stroke-width="1.6"/>
<line x1="628.30" y1="746.00" x2="628.30" y2="839.00" stroke="#4472c4" stroke-width="1.6"/>
<text x="228.80" y="835.30" font-size="11.7" text-anchor="middle" fill="#111">Copia</text>
<text x="489.00" y="835.40" font-size="11.7" text-anchor="middle" fill="#111">Gypsy</text>
<text x="610.80" y="837.00" font-size="11.7" text-anchor="middle" fill="#111">.</text>
</svg>
</body></html>
